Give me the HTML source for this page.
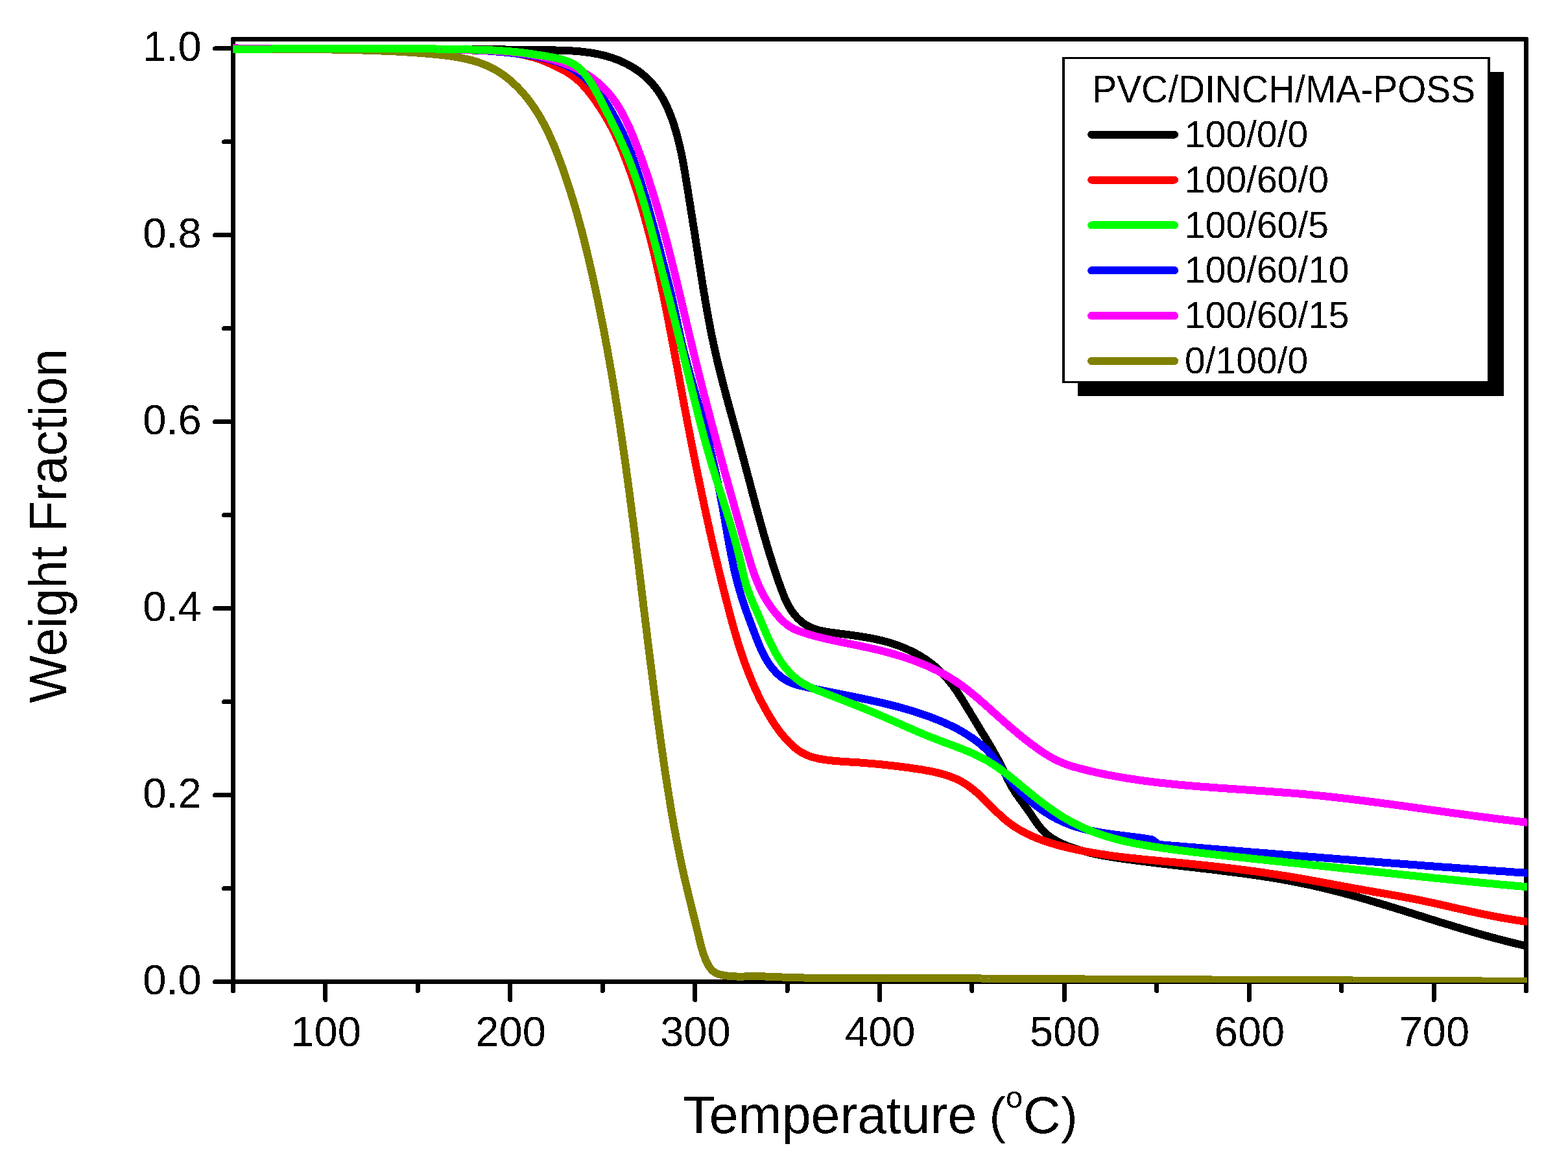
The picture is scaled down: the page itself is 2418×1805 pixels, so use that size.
<!DOCTYPE html>
<html><head><meta charset="utf-8"><title>TGA curves</title>
<style>html,body{margin:0;padding:0;background:#fff;}body{width:2418px;height:1805px;overflow:hidden;}svg{display:block;}</style>
</head><body>
<svg width="2418" height="1805" viewBox="0 0 2418 1805" shape-rendering="crispEdges">
<rect width="2418" height="1805" fill="#fff"/>
<defs><filter id="bin"><feComponentTransfer><feFuncA type="discrete" tableValues="0 1"/></feComponentTransfer></filter><clipPath id="pc"><rect x="359.5" y="57" width="1995.5" height="1459.0"/></clipPath></defs>
<rect x="359.5" y="60.4" width="1994.0" height="1454.1" stroke="#000" stroke-width="7" fill="none" stroke-linejoin="round"/>
<path d="M359.5,1514.5v14 M501.9,1514.5v28 M644.4,1514.5v14 M786.8,1514.5v28 M929.2,1514.5v14 M1071.6,1514.5v28 M1214.1,1514.5v14 M1356.5,1514.5v28 M1498.9,1514.5v14 M1641.4,1514.5v28 M1783.8,1514.5v14 M1926.2,1514.5v28 M2068.6,1514.5v14 M2211.1,1514.5v28 M2353.5,1514.5v14 M359.5,1514.5h-28 M359.5,1370.5h-14 M359.5,1226.6h-28 M359.5,1082.6h-14 M359.5,938.7h-28 M359.5,794.7h-14 M359.5,650.7h-28 M359.5,506.8h-14 M359.5,362.8h-28 M359.5,218.9h-14 M359.5,74.9h-28" stroke="#000" stroke-width="7" stroke-linecap="round" fill="none"/>
<g font-family="'Liberation Sans', Arial, sans-serif" font-size="65" fill="#000" filter="url(#bin)"><text x="502.7" y="1613.6" text-anchor="middle">100</text><text x="787.6" y="1613.6" text-anchor="middle">200</text><text x="1072.4" y="1613.6" text-anchor="middle">300</text><text x="1357.3" y="1613.6" text-anchor="middle">400</text><text x="1642.2" y="1613.6" text-anchor="middle">500</text><text x="1927.0" y="1613.6" text-anchor="middle">600</text><text x="2211.9" y="1613.6" text-anchor="middle">700</text><text x="310.6" y="1533.7" text-anchor="end">0.0</text><text x="310.6" y="1245.8" text-anchor="end">0.2</text><text x="310.6" y="957.9" text-anchor="end">0.4</text><text x="310.6" y="669.9" text-anchor="end">0.6</text><text x="310.6" y="382.0" text-anchor="end">0.8</text><text x="310.6" y="94.1" text-anchor="end">1.0</text></g>
<text font-family="'Liberation Sans', Arial, sans-serif" fill="#000" filter="url(#bin)" y="1747.8"><tspan x="1053.3" font-size="80.7">Temperature </tspan><tspan x="1525.5" font-size="77">(</tspan><tspan x="1551" y="1709.4" font-size="47">o</tspan><tspan x="1577.7" y="1747.8" font-size="80">C</tspan><tspan x="1636.1" font-size="77">)</tspan></text>
<text font-family="'Liberation Sans', Arial, sans-serif" font-size="78.3" transform="translate(102,1084.8) rotate(-90) scale(1,1.035)" fill="#000" filter="url(#bin)">Weight Fraction</text>
<g clip-path="url(#pc)" shape-rendering="crispEdges" fill="none" stroke-width="12" stroke-linejoin="round" stroke-linecap="butt">
<path d="M359.1,74.8 363.1,74.8 367.1,74.8 371.1,74.8 375.1,74.8 379.1,74.8 383.1,74.8 387.1,74.8 391.1,74.8 395.1,74.8 399.1,74.8 403.1,74.8 407.1,74.8 411.1,74.8 415.1,74.8 419.1,74.8 423.1,74.8 427.2,74.8 431.2,74.8 435.2,74.8 439.2,74.8 443.2,74.8 447.2,74.8 451.2,74.8 455.2,74.8 459.2,74.9 463.2,74.9 467.3,74.9 471.3,74.9 475.3,74.9 479.3,74.9 483.3,74.9 487.3,74.9 491.3,74.9 495.3,74.9 499.3,74.9 503.4,74.9 507.4,74.9 511.4,74.9 515.4,74.9 519.4,74.9 523.4,74.9 527.4,74.9 531.4,74.9 535.5,75.0 539.5,75.0 543.5,75.0 547.5,75.0 551.5,75.0 555.5,75.0 559.5,75.0 563.6,75.0 567.6,75.0 571.6,75.0 575.6,75.0 579.6,75.1 583.6,75.1 587.6,75.1 591.6,75.1 595.7,75.1 599.7,75.1 603.7,75.1 607.7,75.2 611.7,75.2 615.7,75.2 619.7,75.2 623.7,75.2 627.8,75.2 631.8,75.3 635.8,75.3 639.8,75.3 643.8,75.3 647.8,75.3 651.8,75.4 655.8,75.4 659.8,75.4 663.9,75.4 667.9,75.5 671.9,75.5 675.9,75.5 679.9,75.5 683.9,75.6 687.9,75.6 691.9,75.6 695.9,75.6 699.9,75.7 703.9,75.7 707.9,75.7 711.9,75.8 715.9,75.8 720.0,75.8 724.0,75.9 728.0,75.9 732.0,76.0 736.0,76.0 740.0,76.0 744.0,76.1 748.0,76.1 752.0,76.2 756.0,76.2 760.0,76.3 764.0,76.3 768.0,76.3 772.0,76.4 776.0,76.4 780.0,76.5 784.0,76.5 788.0,76.6 792.0,76.6 796.0,76.7 800.0,76.7 804.0,76.8 808.1,76.8 812.1,76.9 816.1,76.9 820.1,77.0 824.1,77.0 828.1,77.1 832.2,77.1 836.2,77.2 840.2,77.3 844.3,77.3 848.3,77.4 852.3,77.4 856.4,77.5 860.4,77.6 864.5,77.7 868.5,77.8 872.5,78.0 876.6,78.2 880.6,78.4 884.6,78.6 888.6,78.9 892.6,79.3 896.6,79.6 900.6,80.1 904.5,80.6 908.5,81.1 912.4,81.7 916.4,82.4 920.3,83.1 924.2,83.9 928.0,84.8 931.9,85.7 935.8,86.8 939.6,87.9 943.4,89.1 947.1,90.4 950.9,91.8 954.6,93.2 958.3,94.8 961.9,96.5 965.5,98.2 969.1,100.1 972.6,102.1 976.1,104.1 979.5,106.3 982.8,108.5 986.1,110.9 989.3,113.3 992.4,115.9 995.5,118.5 998.4,121.2 1001.2,124.0 1004.0,126.9 1006.6,129.9 1009.1,132.9 1011.6,136.0 1013.9,139.2 1016.2,142.5 1018.3,145.8 1020.4,149.1 1022.4,152.6 1024.2,156.1 1026.1,159.6 1027.8,163.2 1029.5,166.8 1031.1,170.4 1032.6,174.1 1034.1,177.9 1035.5,181.6 1036.9,185.4 1038.2,189.2 1039.4,193.0 1040.6,196.9 1041.8,200.7 1042.9,204.6 1044.0,208.4 1045.0,212.3 1046.0,216.2 1046.9,220.1 1047.9,224.0 1048.8,227.9 1049.6,231.8 1050.5,235.7 1051.3,239.7 1052.1,243.6 1052.8,247.5 1053.6,251.5 1054.3,255.4 1055.0,259.4 1055.7,263.3 1056.4,267.3 1057.0,271.3 1057.7,275.2 1058.3,279.2 1059.0,283.1 1059.6,287.1 1060.2,291.1 1060.9,295.0 1061.5,299.0 1062.1,302.9 1062.8,306.9 1063.4,310.9 1064.0,314.8 1064.7,318.8 1065.3,322.7 1065.9,326.7 1066.6,330.6 1067.2,334.6 1067.8,338.6 1068.4,342.5 1069.1,346.5 1069.7,350.4 1070.3,354.4 1070.9,358.3 1071.6,362.3 1072.2,366.3 1072.8,370.2 1073.4,374.2 1074.0,378.1 1074.6,382.1 1075.3,386.1 1075.9,390.0 1076.5,394.0 1077.1,398.0 1077.7,401.9 1078.3,405.9 1078.9,409.9 1079.5,413.8 1080.2,417.8 1080.8,421.7 1081.4,425.7 1082.0,429.7 1082.7,433.6 1083.3,437.6 1083.9,441.6 1084.6,445.5 1085.2,449.5 1085.9,453.4 1086.6,457.4 1087.2,461.3 1087.9,465.3 1088.6,469.3 1089.3,473.2 1090.0,477.2 1090.7,481.1 1091.4,485.1 1092.1,489.0 1092.8,492.9 1093.6,496.9 1094.3,500.8 1095.1,504.8 1095.8,508.7 1096.6,512.6 1097.4,516.6 1098.2,520.5 1099.0,524.4 1099.9,528.3 1100.7,532.2 1101.6,536.2 1102.4,540.1 1103.3,544.0 1104.2,547.9 1105.1,551.8 1106.0,555.7 1106.9,559.6 1107.9,563.5 1108.8,567.4 1109.8,571.3 1110.8,575.2 1111.7,579.0 1112.7,582.9 1113.7,586.8 1114.7,590.7 1115.7,594.6 1116.7,598.4 1117.7,602.3 1118.8,606.2 1119.8,610.1 1120.8,613.9 1121.9,617.8 1122.9,621.7 1124.0,625.6 1125.0,629.4 1126.1,633.3 1127.1,637.2 1128.2,641.0 1129.3,644.9 1130.3,648.8 1131.4,652.6 1132.5,656.5 1133.5,660.4 1134.6,664.3 1135.7,668.1 1136.7,672.0 1137.8,675.9 1138.9,679.7 1139.9,683.6 1141.0,687.5 1142.0,691.3 1143.1,695.2 1144.1,699.1 1145.2,703.0 1146.2,706.9 1147.3,710.7 1148.3,714.6 1149.3,718.5 1150.3,722.4 1151.4,726.3 1152.4,730.1 1153.4,734.0 1154.4,737.9 1155.5,741.8 1156.5,745.7 1157.5,749.5 1158.5,753.4 1159.6,757.3 1160.6,761.2 1161.6,765.1 1162.6,768.9 1163.7,772.8 1164.7,776.7 1165.7,780.6 1166.8,784.4 1167.8,788.3 1168.9,792.2 1169.9,796.0 1171.0,799.9 1172.0,803.8 1173.1,807.6 1174.2,811.5 1175.3,815.3 1176.3,819.2 1177.4,823.1 1178.5,826.9 1179.7,830.7 1180.8,834.6 1181.9,838.4 1183.0,842.3 1184.2,846.1 1185.3,849.9 1186.5,853.7 1187.7,857.6 1188.9,861.4 1190.1,865.2 1191.3,869.0 1192.5,872.8 1193.7,876.6 1195.0,880.4 1196.2,884.2 1197.5,888.0 1198.8,891.8 1200.1,895.6 1201.5,899.4 1202.8,903.2 1204.2,907.0 1205.6,910.8 1207.0,914.6 1208.5,918.3 1210.0,922.1 1211.6,925.8 1213.3,929.4 1215.2,933.0 1217.1,936.5 1219.2,939.9 1221.4,943.2 1223.8,946.4 1226.3,949.5 1228.9,952.5 1231.7,955.3 1234.7,958.0 1237.7,960.5 1240.9,962.8 1244.3,964.9 1247.7,966.8 1251.3,968.5 1254.9,969.9 1258.7,971.2 1262.6,972.3 1266.5,973.2 1270.5,974.0 1274.5,974.7 1278.5,975.4 1282.6,975.9 1286.7,976.4 1290.7,977.0 1294.7,977.5 1298.7,978.0 1302.7,978.5 1306.7,979.0 1310.7,979.5 1314.6,980.1 1318.6,980.6 1322.5,981.2 1326.4,981.8 1330.3,982.4 1334.2,983.1 1338.1,983.8 1342.0,984.5 1345.9,985.2 1349.8,986.0 1353.7,986.9 1357.6,987.7 1361.5,988.7 1365.3,989.7 1369.2,990.7 1373.0,991.9 1376.9,993.1 1380.7,994.3 1384.5,995.7 1388.3,997.1 1392.0,998.6 1395.8,1000.1 1399.5,1001.8 1403.1,1003.5 1406.8,1005.3 1410.4,1007.1 1413.9,1009.0 1417.5,1011.0 1420.9,1013.1 1424.3,1015.2 1427.7,1017.4 1431.0,1019.7 1434.2,1022.1 1437.4,1024.5 1440.5,1027.0 1443.5,1029.6 1446.5,1032.2 1449.4,1034.9 1452.2,1037.7 1454.9,1040.6 1457.6,1043.5 1460.2,1046.5 1462.8,1049.5 1465.2,1052.6 1467.7,1055.7 1470.1,1058.9 1472.4,1062.2 1474.7,1065.4 1476.9,1068.7 1479.1,1072.1 1481.3,1075.4 1483.5,1078.8 1485.6,1082.2 1487.7,1085.6 1489.8,1089.1 1491.9,1092.5 1494.0,1096.0 1496.1,1099.4 1498.1,1102.9 1500.2,1106.3 1502.3,1109.8 1504.4,1113.2 1506.5,1116.6 1508.6,1120.1 1510.7,1123.5 1512.7,1126.9 1514.8,1130.3 1516.9,1133.7 1519.0,1137.1 1521.1,1140.6 1523.1,1144.0 1525.2,1147.4 1527.2,1150.8 1529.2,1154.3 1531.2,1157.7 1533.1,1161.2 1535.1,1164.7 1537.0,1168.2 1538.9,1171.7 1540.7,1175.2 1542.6,1178.8 1544.4,1182.4 1546.1,1186.0 1547.9,1189.6 1549.6,1193.2 1551.4,1196.8 1553.1,1200.4 1554.9,1203.9 1556.8,1207.5 1558.7,1211.0 1560.6,1214.4 1562.7,1217.8 1564.8,1221.2 1567.0,1224.5 1569.3,1227.8 1571.6,1231.0 1573.9,1234.2 1576.3,1237.5 1578.7,1240.7 1581.0,1243.9 1583.4,1247.2 1585.7,1250.5 1588.0,1253.8 1590.3,1257.2 1592.6,1260.6 1594.9,1264.0 1597.2,1267.3 1599.5,1270.6 1601.9,1273.8 1604.4,1276.9 1607.0,1279.9 1609.7,1282.8 1612.5,1285.6 1615.5,1288.1 1618.6,1290.5 1621.8,1292.8 1625.2,1294.9 1628.6,1296.9 1632.1,1298.8 1635.7,1300.6 1639.4,1302.2 1643.1,1303.8 1646.8,1305.3 1650.6,1306.7 1654.4,1308.0 1658.2,1309.3 1662.1,1310.5 1665.9,1311.7 1669.8,1312.8 1673.6,1313.8 1677.5,1314.8 1681.4,1315.8 1685.3,1316.7 1689.2,1317.6 1693.2,1318.4 1697.1,1319.2 1701.0,1319.9 1705.0,1320.6 1708.9,1321.3 1712.9,1322.0 1716.9,1322.6 1720.8,1323.2 1724.8,1323.8 1728.8,1324.4 1732.7,1325.0 1736.7,1325.5 1740.7,1326.0 1744.7,1326.6 1748.7,1327.1 1752.6,1327.6 1756.6,1328.1 1760.6,1328.6 1764.6,1329.1 1768.5,1329.6 1772.5,1330.1 1776.5,1330.6 1780.4,1331.1 1784.4,1331.6 1788.4,1332.1 1792.4,1332.6 1796.3,1333.0 1800.3,1333.5 1804.3,1334.0 1808.3,1334.5 1812.2,1334.9 1816.2,1335.4 1820.2,1335.9 1824.2,1336.3 1828.2,1336.8 1832.1,1337.2 1836.1,1337.7 1840.1,1338.2 1844.1,1338.6 1848.1,1339.1 1852.1,1339.6 1856.0,1340.0 1860.0,1340.5 1864.0,1341.0 1868.0,1341.4 1872.0,1341.9 1876.0,1342.4 1880.0,1342.9 1883.9,1343.4 1887.9,1343.9 1891.9,1344.4 1895.9,1344.9 1899.9,1345.4 1903.9,1345.9 1907.8,1346.4 1911.8,1346.9 1915.8,1347.4 1919.8,1348.0 1923.8,1348.5 1927.7,1349.1 1931.7,1349.7 1935.7,1350.2 1939.7,1350.8 1943.6,1351.4 1947.6,1352.0 1951.6,1352.6 1955.5,1353.2 1959.5,1353.9 1963.4,1354.5 1967.4,1355.2 1971.3,1355.8 1975.3,1356.5 1979.2,1357.2 1983.2,1357.9 1987.1,1358.6 1991.1,1359.4 1995.0,1360.1 1998.9,1360.9 2002.9,1361.7 2006.8,1362.5 2010.7,1363.3 2014.6,1364.1 2018.6,1364.9 2022.5,1365.8 2026.4,1366.7 2030.3,1367.6 2034.2,1368.5 2038.1,1369.4 2042.0,1370.3 2045.9,1371.3 2049.7,1372.2 2053.6,1373.2 2057.5,1374.2 2061.4,1375.2 2065.3,1376.2 2069.1,1377.2 2073.0,1378.2 2076.9,1379.3 2080.8,1380.3 2084.6,1381.4 2088.5,1382.4 2092.3,1383.5 2096.2,1384.6 2100.1,1385.7 2103.9,1386.8 2107.8,1387.9 2111.6,1389.0 2115.5,1390.2 2119.3,1391.3 2123.2,1392.5 2127.0,1393.6 2130.8,1394.8 2134.7,1395.9 2138.5,1397.1 2142.4,1398.2 2146.2,1399.4 2150.0,1400.6 2153.9,1401.8 2157.7,1403.0 2161.5,1404.1 2165.4,1405.3 2169.2,1406.5 2173.0,1407.7 2176.9,1408.9 2180.7,1410.1 2184.5,1411.3 2188.4,1412.5 2192.2,1413.7 2196.0,1414.9 2199.9,1416.1 2203.7,1417.3 2207.5,1418.5 2211.4,1419.7 2215.2,1420.9 2219.0,1422.1 2222.9,1423.3 2226.7,1424.4 2230.5,1425.6 2234.4,1426.8 2238.2,1428.0 2242.1,1429.1 2245.9,1430.3 2249.7,1431.5 2253.6,1432.6 2257.4,1433.8 2261.3,1434.9 2265.1,1436.0 2269.0,1437.2 2272.8,1438.3 2276.7,1439.4 2280.5,1440.5 2284.4,1441.6 2288.2,1442.7 2292.1,1443.8 2295.9,1444.8 2299.8,1445.9 2303.7,1446.9 2307.5,1448.0 2311.4,1449.0 2315.3,1450.0 2319.2,1451.0 2323.0,1452.0 2326.9,1453.0 2330.8,1454.0 2334.7,1454.9 2338.6,1455.9 2342.5,1456.8 2346.4,1457.7 2350.3,1458.6 2354.2,1459.5 2358.1,1460.4" stroke="#000000"/>
<path d="M359.0,74.9 363.0,74.9 367.0,74.8 371.0,74.8 375.0,74.8 379.1,74.8 383.1,74.8 387.1,74.8 391.1,74.8 395.1,74.8 399.1,74.8 403.1,74.8 407.1,74.8 411.1,74.8 415.2,74.8 419.2,74.8 423.2,74.8 427.2,74.9 431.2,74.9 435.2,74.9 439.2,74.9 443.2,74.9 447.2,74.9 451.3,74.9 455.3,74.9 459.3,74.9 463.3,74.9 467.3,74.9 471.3,75.0 475.3,75.0 479.3,75.0 483.3,75.0 487.4,75.0 491.4,75.0 495.4,75.0 499.4,75.0 503.4,75.1 507.4,75.1 511.4,75.1 515.4,75.1 519.4,75.1 523.5,75.1 527.5,75.1 531.5,75.1 535.5,75.2 539.5,75.2 543.5,75.2 547.5,75.2 551.5,75.2 555.5,75.2 559.6,75.2 563.6,75.2 567.6,75.2 571.6,75.3 575.6,75.3 579.6,75.3 583.6,75.3 587.6,75.3 591.6,75.3 595.7,75.3 599.7,75.4 603.7,75.4 607.7,75.4 611.7,75.4 615.7,75.4 619.7,75.5 623.7,75.5 627.7,75.5 631.8,75.6 635.8,75.6 639.8,75.6 643.8,75.7 647.8,75.7 651.8,75.8 655.8,75.8 659.8,75.9 663.9,75.9 667.9,76.0 671.9,76.1 675.9,76.1 679.9,76.2 683.9,76.3 687.9,76.4 691.9,76.5 695.9,76.6 700.0,76.7 704.0,76.8 708.0,76.9 712.0,77.0 716.0,77.1 720.0,77.2 724.0,77.4 728.0,77.5 732.0,77.7 736.0,77.8 740.1,78.0 744.1,78.1 748.1,78.3 752.1,78.5 756.1,78.7 760.1,78.9 764.1,79.2 768.1,79.5 772.1,79.8 776.1,80.1 780.0,80.5 784.0,81.0 788.0,81.5 791.9,82.0 795.9,82.6 799.8,83.2 803.7,84.0 807.6,84.8 811.5,85.6 815.4,86.6 819.3,87.6 823.1,88.7 827.0,89.9 830.8,91.1 834.6,92.5 838.3,93.9 842.1,95.5 845.8,97.0 849.5,98.7 853.2,100.3 856.9,102.1 860.5,103.8 864.0,105.6 867.6,107.5 871.0,109.4 874.4,111.4 877.8,113.5 881.0,115.7 884.2,118.0 887.2,120.4 890.2,122.9 893.1,125.5 895.9,128.2 898.6,131.0 901.2,133.9 903.8,136.8 906.3,139.8 908.8,142.9 911.2,146.0 913.6,149.2 916.0,152.4 918.3,155.7 920.6,159.0 922.9,162.3 925.2,165.7 927.4,169.1 929.5,172.5 931.7,175.9 933.7,179.4 935.8,182.9 937.8,186.4 939.7,189.9 941.7,193.5 943.5,197.0 945.4,200.6 947.1,204.2 948.9,207.8 950.6,211.5 952.3,215.1 953.9,218.8 955.5,222.4 957.1,226.1 958.7,229.8 960.2,233.5 961.7,237.3 963.1,241.0 964.6,244.7 966.0,248.5 967.4,252.2 968.8,256.0 970.2,259.8 971.5,263.5 972.8,267.3 974.2,271.1 975.5,274.9 976.7,278.7 978.0,282.5 979.3,286.3 980.5,290.1 981.7,293.9 982.9,297.7 984.2,301.5 985.3,305.4 986.5,309.2 987.7,313.0 988.8,316.8 990.0,320.7 991.1,324.5 992.2,328.4 993.3,332.2 994.4,336.1 995.4,339.9 996.5,343.8 997.6,347.6 998.6,351.5 999.6,355.4 1000.6,359.2 1001.7,363.1 1002.6,367.0 1003.6,370.9 1004.6,374.7 1005.6,378.6 1006.5,382.5 1007.5,386.4 1008.4,390.3 1009.4,394.2 1010.3,398.1 1011.2,402.0 1012.1,405.9 1013.0,409.8 1013.9,413.7 1014.8,417.6 1015.6,421.5 1016.5,425.5 1017.4,429.4 1018.2,433.3 1019.0,437.2 1019.9,441.1 1020.7,445.1 1021.5,449.0 1022.4,452.9 1023.2,456.8 1024.0,460.8 1024.8,464.7 1025.6,468.6 1026.4,472.6 1027.2,476.5 1027.9,480.4 1028.7,484.4 1029.5,488.3 1030.3,492.3 1031.0,496.2 1031.8,500.1 1032.5,504.1 1033.3,508.0 1034.1,512.0 1034.8,515.9 1035.5,519.9 1036.3,523.8 1037.0,527.8 1037.8,531.7 1038.5,535.7 1039.2,539.6 1040.0,543.6 1040.7,547.5 1041.4,551.5 1042.2,555.4 1042.9,559.4 1043.6,563.3 1044.4,567.2 1045.1,571.2 1045.8,575.1 1046.6,579.1 1047.3,583.0 1048.0,587.0 1048.7,590.9 1049.5,594.9 1050.2,598.8 1050.9,602.8 1051.7,606.7 1052.4,610.7 1053.2,614.6 1053.9,618.5 1054.6,622.5 1055.4,626.4 1056.1,630.4 1056.9,634.3 1057.6,638.3 1058.4,642.2 1059.1,646.1 1059.9,650.1 1060.6,654.0 1061.4,657.9 1062.1,661.9 1062.9,665.8 1063.7,669.8 1064.4,673.7 1065.2,677.6 1066.0,681.6 1066.7,685.5 1067.5,689.4 1068.3,693.4 1069.1,697.3 1069.8,701.2 1070.6,705.1 1071.4,709.1 1072.2,713.0 1073.0,716.9 1073.8,720.9 1074.6,724.8 1075.4,728.7 1076.2,732.6 1077.0,736.6 1077.8,740.5 1078.6,744.4 1079.4,748.3 1080.2,752.3 1081.0,756.2 1081.8,760.1 1082.7,764.0 1083.5,767.9 1084.3,771.9 1085.2,775.8 1086.0,779.7 1086.8,783.6 1087.7,787.5 1088.5,791.5 1089.4,795.4 1090.2,799.3 1091.1,803.2 1091.9,807.1 1092.8,811.0 1093.7,814.9 1094.5,818.9 1095.4,822.8 1096.3,826.7 1097.2,830.6 1098.0,834.5 1098.9,838.4 1099.8,842.3 1100.7,846.2 1101.6,850.1 1102.5,854.0 1103.4,857.9 1104.4,861.9 1105.3,865.8 1106.2,869.7 1107.1,873.6 1108.0,877.5 1109.0,881.4 1109.9,885.3 1110.9,889.2 1111.8,893.1 1112.8,897.0 1113.7,900.9 1114.7,904.8 1115.6,908.7 1116.6,912.6 1117.6,916.5 1118.6,920.4 1119.6,924.3 1120.6,928.2 1121.6,932.0 1122.6,935.9 1123.6,939.8 1124.6,943.7 1125.6,947.6 1126.7,951.5 1127.7,955.4 1128.8,959.2 1129.8,963.1 1130.9,967.0 1132.0,970.8 1133.1,974.7 1134.3,978.5 1135.4,982.4 1136.5,986.2 1137.7,990.1 1138.9,993.9 1140.1,997.7 1141.3,1001.5 1142.6,1005.3 1143.9,1009.1 1145.1,1012.9 1146.5,1016.7 1147.8,1020.5 1149.1,1024.2 1150.5,1028.0 1151.9,1031.7 1153.3,1035.5 1154.8,1039.2 1156.3,1042.9 1157.8,1046.6 1159.3,1050.3 1160.9,1054.0 1162.4,1057.6 1164.1,1061.3 1165.7,1064.9 1167.4,1068.5 1169.1,1072.2 1170.8,1075.8 1172.6,1079.3 1174.4,1082.9 1176.3,1086.5 1178.2,1090.0 1180.1,1093.5 1182.0,1097.0 1184.0,1100.5 1186.1,1104.0 1188.1,1107.4 1190.3,1110.9 1192.4,1114.2 1194.7,1117.6 1196.9,1120.9 1199.3,1124.2 1201.7,1127.5 1204.1,1130.7 1206.6,1133.8 1209.2,1136.9 1211.9,1140.0 1214.6,1143.0 1217.4,1145.9 1220.3,1148.7 1223.3,1151.4 1226.3,1154.0 1229.4,1156.4 1232.6,1158.7 1236.0,1160.7 1239.4,1162.6 1242.9,1164.3 1246.5,1165.8 1250.2,1167.2 1253.9,1168.3 1257.8,1169.4 1261.6,1170.3 1265.6,1171.0 1269.5,1171.7 1273.5,1172.3 1277.5,1172.8 1281.5,1173.3 1285.6,1173.7 1289.6,1174.1 1293.7,1174.4 1297.7,1174.7 1301.8,1175.0 1305.8,1175.3 1309.8,1175.5 1313.9,1175.8 1317.9,1176.0 1321.9,1176.3 1325.9,1176.5 1329.9,1176.8 1333.9,1177.1 1337.9,1177.5 1341.9,1177.8 1345.9,1178.1 1349.8,1178.5 1353.8,1178.9 1357.8,1179.2 1361.7,1179.6 1365.7,1180.1 1369.6,1180.5 1373.6,1180.9 1377.5,1181.4 1381.5,1181.9 1385.5,1182.4 1389.4,1182.9 1393.4,1183.4 1397.4,1183.9 1401.4,1184.4 1405.3,1185.0 1409.3,1185.6 1413.3,1186.2 1417.3,1186.8 1421.4,1187.4 1425.4,1188.1 1429.4,1188.8 1433.4,1189.5 1437.3,1190.3 1441.3,1191.2 1445.2,1192.1 1449.1,1193.0 1453.0,1194.1 1456.9,1195.2 1460.7,1196.4 1464.4,1197.7 1468.1,1199.1 1471.8,1200.5 1475.4,1202.1 1478.9,1203.8 1482.4,1205.6 1485.8,1207.6 1489.2,1209.6 1492.4,1211.8 1495.6,1214.1 1498.8,1216.5 1501.9,1219.0 1504.9,1221.5 1507.9,1224.2 1510.9,1226.9 1513.9,1229.7 1516.8,1232.5 1519.7,1235.3 1522.6,1238.2 1525.4,1241.1 1528.3,1244.0 1531.2,1246.9 1534.1,1249.8 1537.0,1252.6 1539.9,1255.4 1542.9,1258.2 1545.9,1260.9 1548.9,1263.6 1552.0,1266.1 1555.1,1268.6 1558.3,1271.0 1561.6,1273.4 1564.8,1275.6 1568.2,1277.7 1571.6,1279.8 1575.0,1281.7 1578.5,1283.6 1582.0,1285.5 1585.6,1287.2 1589.2,1288.9 1592.8,1290.5 1596.5,1292.1 1600.2,1293.5 1603.9,1295.0 1607.6,1296.3 1611.4,1297.7 1615.2,1298.9 1619.0,1300.2 1622.9,1301.3 1626.7,1302.5 1630.6,1303.6 1634.4,1304.6 1638.3,1305.6 1642.2,1306.6 1646.1,1307.6 1650.0,1308.5 1653.9,1309.4 1657.8,1310.3 1661.7,1311.1 1665.6,1311.9 1669.5,1312.7 1673.4,1313.5 1677.4,1314.2 1681.3,1315.0 1685.3,1315.6 1689.2,1316.3 1693.1,1317.0 1697.1,1317.6 1701.1,1318.2 1705.0,1318.8 1709.0,1319.4 1712.9,1319.9 1716.9,1320.5 1720.9,1321.0 1724.9,1321.5 1728.8,1322.0 1732.8,1322.5 1736.8,1322.9 1740.8,1323.4 1744.8,1323.8 1748.8,1324.2 1752.8,1324.7 1756.8,1325.1 1760.8,1325.5 1764.8,1325.9 1768.8,1326.3 1772.8,1326.7 1776.7,1327.1 1780.7,1327.4 1784.7,1327.8 1788.7,1328.2 1792.7,1328.6 1796.8,1328.9 1800.8,1329.3 1804.8,1329.7 1808.7,1330.1 1812.7,1330.4 1816.7,1330.8 1820.7,1331.2 1824.7,1331.6 1828.7,1332.0 1832.7,1332.4 1836.7,1332.8 1840.7,1333.2 1844.7,1333.6 1848.7,1334.0 1852.7,1334.5 1856.7,1334.9 1860.7,1335.3 1864.6,1335.7 1868.6,1336.2 1872.6,1336.6 1876.6,1337.1 1880.6,1337.5 1884.6,1338.0 1888.5,1338.5 1892.5,1338.9 1896.5,1339.4 1900.5,1339.9 1904.5,1340.4 1908.4,1340.9 1912.4,1341.4 1916.4,1341.9 1920.4,1342.4 1924.3,1342.9 1928.3,1343.5 1932.3,1344.0 1936.2,1344.5 1940.2,1345.1 1944.2,1345.6 1948.2,1346.2 1952.1,1346.8 1956.1,1347.4 1960.0,1347.9 1964.0,1348.5 1968.0,1349.1 1971.9,1349.7 1975.9,1350.4 1979.9,1351.0 1983.8,1351.6 1987.8,1352.2 1991.7,1352.9 1995.7,1353.6 1999.6,1354.2 2003.6,1354.9 2007.5,1355.6 2011.5,1356.3 2015.4,1357.0 2019.4,1357.7 2023.3,1358.4 2027.3,1359.1 2031.2,1359.8 2035.2,1360.5 2039.1,1361.3 2043.1,1362.0 2047.0,1362.7 2051.0,1363.5 2054.9,1364.2 2058.9,1364.9 2062.8,1365.7 2066.8,1366.4 2070.7,1367.2 2074.6,1367.9 2078.6,1368.6 2082.5,1369.4 2086.5,1370.1 2090.4,1370.8 2094.4,1371.5 2098.3,1372.2 2102.3,1372.9 2106.2,1373.6 2110.2,1374.3 2114.1,1375.0 2118.1,1375.7 2122.0,1376.4 2126.0,1377.1 2129.9,1377.7 2133.9,1378.4 2137.8,1379.1 2141.7,1379.8 2145.7,1380.5 2149.6,1381.2 2153.6,1381.9 2157.5,1382.6 2161.5,1383.3 2165.4,1384.0 2169.3,1384.8 2173.3,1385.5 2177.2,1386.3 2181.1,1387.0 2185.1,1387.8 2189.0,1388.6 2192.9,1389.4 2196.8,1390.3 2200.8,1391.1 2204.7,1391.9 2208.6,1392.8 2212.5,1393.6 2216.4,1394.5 2220.4,1395.4 2224.3,1396.3 2228.2,1397.1 2232.1,1398.0 2236.0,1398.9 2239.9,1399.8 2243.8,1400.7 2247.8,1401.6 2251.7,1402.5 2255.6,1403.4 2259.5,1404.2 2263.4,1405.1 2267.3,1406.0 2271.3,1406.9 2275.2,1407.7 2279.1,1408.6 2283.0,1409.4 2286.9,1410.2 2290.9,1411.0 2294.8,1411.8 2298.7,1412.6 2302.7,1413.4 2306.6,1414.2 2310.6,1414.9 2314.5,1415.6 2318.4,1416.3 2322.4,1417.0 2326.4,1417.7 2330.3,1418.3 2334.3,1419.0 2338.2,1419.6 2342.2,1420.1 2346.2,1420.7 2350.2,1421.2 2354.2,1421.7 2358.1,1422.2" stroke="#ff0000"/>
<path d="M359.0,74.9 363.1,74.9 367.1,74.9 371.1,74.9 375.1,74.9 379.1,74.9 383.1,74.9 387.1,74.9 391.1,74.8 395.1,74.8 399.1,74.8 403.1,74.8 407.1,74.8 411.1,74.8 415.1,74.8 419.1,74.8 423.2,74.8 427.2,74.8 431.2,74.8 435.2,74.8 439.2,74.8 443.2,74.8 447.2,74.8 451.2,74.9 455.2,74.9 459.3,74.9 463.3,74.9 467.3,74.9 471.3,74.9 475.3,74.9 479.3,74.9 483.3,74.9 487.3,74.9 491.4,74.9 495.4,75.0 499.4,75.0 503.4,75.0 507.4,75.0 511.4,75.0 515.4,75.0 519.4,75.1 523.5,75.1 527.5,75.1 531.5,75.1 535.5,75.1 539.5,75.1 543.5,75.2 547.5,75.2 551.6,75.2 555.6,75.2 559.6,75.3 563.6,75.3 567.6,75.3 571.6,75.3 575.6,75.4 579.7,75.4 583.7,75.4 587.7,75.4 591.7,75.5 595.7,75.5 599.7,75.5 603.7,75.6 607.7,75.6 611.8,75.6 615.8,75.7 619.8,75.7 623.8,75.7 627.8,75.8 631.8,75.8 635.8,75.8 639.8,75.9 643.8,75.9 647.8,75.9 651.9,76.0 655.9,76.0 659.9,76.1 663.9,76.1 667.9,76.1 671.9,76.2 675.9,76.2 679.9,76.3 683.9,76.3 687.9,76.4 691.9,76.4 695.9,76.5 699.9,76.6 703.9,76.7 707.9,76.8 711.9,76.9 715.9,77.0 719.9,77.1 723.9,77.2 727.9,77.4 731.9,77.5 735.9,77.7 739.9,77.9 743.9,78.1 747.9,78.3 751.9,78.5 755.9,78.8 759.9,79.1 763.9,79.4 767.9,79.7 771.9,80.0 775.9,80.4 779.9,80.8 783.9,81.2 787.9,81.6 791.9,82.1 795.9,82.5 799.9,83.1 803.9,83.6 807.9,84.2 811.9,84.7 815.9,85.4 819.8,86.0 823.8,86.7 827.8,87.4 831.8,88.2 835.8,89.0 839.7,89.9 843.6,90.8 847.5,91.8 851.4,92.9 855.2,94.1 859.0,95.3 862.8,96.6 866.5,98.0 870.1,99.6 873.7,101.2 877.3,102.9 880.7,104.8 884.1,106.8 887.5,108.9 890.7,111.1 893.9,113.5 897.0,115.9 900.1,118.5 903.1,121.1 906.0,123.9 908.8,126.7 911.6,129.6 914.4,132.6 917.0,135.6 919.6,138.7 922.2,141.9 924.7,145.1 927.1,148.3 929.5,151.5 931.8,154.8 934.1,158.1 936.3,161.4 938.5,164.8 940.6,168.2 942.7,171.6 944.7,175.1 946.7,178.5 948.7,182.0 950.6,185.5 952.4,189.1 954.3,192.6 956.0,196.2 957.8,199.8 959.5,203.4 961.1,207.0 962.8,210.7 964.4,214.3 965.9,218.0 967.5,221.7 969.0,225.4 970.5,229.2 971.9,232.9 973.3,236.6 974.7,240.4 976.1,244.2 977.5,247.9 978.8,251.7 980.1,255.5 981.4,259.3 982.7,263.1 983.9,267.0 985.2,270.8 986.4,274.6 987.6,278.4 988.8,282.3 990.0,286.1 991.2,289.9 992.3,293.8 993.5,297.6 994.6,301.5 995.8,305.3 996.9,309.2 998.0,313.0 999.1,316.9 1000.2,320.7 1001.3,324.6 1002.4,328.4 1003.5,332.3 1004.5,336.1 1005.6,340.0 1006.6,343.9 1007.7,347.7 1008.7,351.6 1009.8,355.5 1010.8,359.4 1011.8,363.2 1012.8,367.1 1013.9,371.0 1014.9,374.8 1015.9,378.7 1016.9,382.6 1017.9,386.5 1018.9,390.4 1019.9,394.2 1020.9,398.1 1021.9,402.0 1022.9,405.9 1024.0,409.8 1025.0,413.7 1026.0,417.5 1026.9,421.4 1027.9,425.3 1028.9,429.2 1029.9,433.1 1030.9,437.0 1031.8,440.9 1032.8,444.8 1033.7,448.7 1034.6,452.6 1035.6,456.5 1036.5,460.4 1037.4,464.3 1038.2,468.2 1039.1,472.1 1040.0,476.0 1040.8,480.0 1041.6,483.9 1042.5,487.8 1043.3,491.7 1044.1,495.6 1045.0,499.6 1045.8,503.5 1046.7,507.4 1047.5,511.3 1048.4,515.2 1049.2,519.2 1050.1,523.1 1051.0,527.0 1051.9,530.9 1052.9,534.8 1053.8,538.7 1054.8,542.6 1055.8,546.4 1056.8,550.3 1057.8,554.2 1058.8,558.1 1059.9,562.0 1060.9,565.9 1062.0,569.7 1063.0,573.6 1064.1,577.5 1065.2,581.3 1066.3,585.2 1067.3,589.1 1068.4,592.9 1069.5,596.8 1070.6,600.7 1071.7,604.5 1072.8,608.4 1073.9,612.2 1075.0,616.1 1076.1,620.0 1077.2,623.8 1078.3,627.7 1079.4,631.6 1080.5,635.4 1081.5,639.3 1082.6,643.2 1083.7,647.0 1084.7,650.9 1085.7,654.8 1086.8,658.6 1087.8,662.5 1088.8,666.4 1089.8,670.3 1090.8,674.2 1091.8,678.1 1092.7,681.9 1093.7,685.8 1094.6,689.7 1095.6,693.6 1096.5,697.5 1097.4,701.4 1098.3,705.3 1099.2,709.2 1100.1,713.1 1101.0,717.0 1101.8,720.9 1102.7,724.8 1103.5,728.7 1104.4,732.7 1105.2,736.6 1106.0,740.5 1106.8,744.4 1107.6,748.3 1108.4,752.3 1109.2,756.2 1110.0,760.1 1110.8,764.1 1111.5,768.0 1112.3,771.9 1113.0,775.9 1113.8,779.8 1114.5,783.8 1115.2,787.7 1115.9,791.7 1116.6,795.6 1117.3,799.6 1118.0,803.6 1118.7,807.5 1119.4,811.5 1120.1,815.4 1120.8,819.4 1121.5,823.4 1122.2,827.3 1122.9,831.3 1123.6,835.2 1124.3,839.2 1125.1,843.1 1125.8,847.1 1126.6,851.0 1127.3,855.0 1128.1,858.9 1128.9,862.8 1129.7,866.7 1130.5,870.7 1131.4,874.6 1132.2,878.5 1133.1,882.4 1134.1,886.3 1135.0,890.2 1136.0,894.0 1136.9,897.9 1138.0,901.8 1139.0,905.6 1140.1,909.4 1141.2,913.3 1142.4,917.1 1143.5,920.9 1144.7,924.7 1146.0,928.5 1147.2,932.3 1148.5,936.1 1149.8,939.8 1151.2,943.6 1152.5,947.4 1153.9,951.1 1155.3,954.9 1156.7,958.6 1158.1,962.4 1159.5,966.2 1160.9,969.9 1162.4,973.7 1163.8,977.5 1165.2,981.2 1166.7,985.0 1168.2,988.8 1169.7,992.5 1171.2,996.2 1172.8,999.9 1174.5,1003.6 1176.2,1007.2 1178.0,1010.7 1179.9,1014.2 1181.9,1017.7 1183.9,1021.1 1186.1,1024.4 1188.4,1027.6 1190.8,1030.7 1193.4,1033.8 1196.1,1036.7 1198.9,1039.5 1201.9,1042.2 1205.0,1044.7 1208.2,1047.1 1211.6,1049.2 1215.1,1051.2 1218.7,1052.8 1222.4,1054.3 1226.1,1055.5 1230.0,1056.7 1233.8,1057.7 1237.7,1058.6 1241.6,1059.5 1245.5,1060.4 1249.5,1061.3 1253.4,1062.1 1257.3,1063.0 1261.2,1063.8 1265.1,1064.6 1269.1,1065.5 1273.0,1066.3 1276.9,1067.1 1280.9,1067.8 1284.8,1068.6 1288.7,1069.4 1292.7,1070.2 1296.6,1071.0 1300.5,1071.8 1304.5,1072.5 1308.4,1073.3 1312.3,1074.1 1316.3,1074.9 1320.2,1075.7 1324.2,1076.5 1328.1,1077.3 1332.0,1078.1 1336.0,1079.0 1339.9,1079.8 1343.8,1080.7 1347.7,1081.5 1351.6,1082.4 1355.6,1083.3 1359.5,1084.2 1363.4,1085.1 1367.3,1086.1 1371.2,1087.0 1375.0,1088.0 1378.9,1089.0 1382.8,1090.0 1386.7,1091.0 1390.5,1092.1 1394.4,1093.2 1398.2,1094.3 1402.1,1095.4 1405.9,1096.6 1409.7,1097.8 1413.5,1099.0 1417.3,1100.2 1421.1,1101.5 1424.9,1102.8 1428.7,1104.1 1432.5,1105.4 1436.2,1106.8 1440.0,1108.3 1443.7,1109.7 1447.4,1111.2 1451.1,1112.8 1454.8,1114.3 1458.5,1115.9 1462.1,1117.6 1465.7,1119.3 1469.3,1121.1 1472.9,1122.9 1476.5,1124.7 1480.0,1126.6 1483.5,1128.6 1486.9,1130.6 1490.4,1132.7 1493.7,1134.9 1497.1,1137.1 1500.4,1139.3 1503.6,1141.7 1506.8,1144.1 1510.0,1146.6 1513.1,1149.1 1516.1,1151.8 1519.1,1154.5 1521.9,1157.3 1524.7,1160.2 1527.3,1163.1 1529.8,1166.2 1532.2,1169.3 1534.6,1172.5 1536.9,1175.7 1539.1,1179.0 1541.4,1182.3 1543.7,1185.5 1546.1,1188.7 1548.5,1192.0 1550.9,1195.1 1553.4,1198.3 1556.0,1201.4 1558.5,1204.5 1561.1,1207.6 1563.8,1210.6 1566.5,1213.6 1569.2,1216.6 1572.0,1219.5 1574.8,1222.4 1577.7,1225.2 1580.6,1228.0 1583.6,1230.7 1586.5,1233.4 1589.6,1236.0 1592.6,1238.6 1595.7,1241.2 1598.9,1243.6 1602.1,1246.0 1605.3,1248.4 1608.5,1250.7 1611.8,1252.9 1615.2,1255.1 1618.6,1257.2 1622.0,1259.2 1625.4,1261.1 1628.9,1263.0 1632.5,1264.8 1636.0,1266.5 1639.6,1268.2 1643.3,1269.7 1646.9,1271.2 1650.7,1272.6 1654.4,1273.9 1658.2,1275.2 1662.0,1276.3 1665.8,1277.4 1669.7,1278.5 1673.6,1279.5 1677.5,1280.4 1681.4,1281.3 1685.3,1282.1 1689.3,1282.9 1693.3,1283.6 1697.3,1284.3 1701.3,1285.0 1705.3,1285.6 1709.3,1286.2 1713.3,1286.8 1717.3,1287.3 1721.4,1287.8 1725.4,1288.4 1729.4,1288.9 1733.4,1289.4 1737.5,1289.9 1741.5,1290.4 1745.5,1290.9 1749.4,1291.4 1753.4,1291.9 1757.4,1292.4 1761.3,1293.0 1765.2,1293.5 1769.1,1294.1 1773.0,1294.8 1776.8,1295.4 L1787.0,1303.0 1791.0,1303.3 1795.0,1303.6 1799.1,1303.9 1803.1,1304.3 1807.1,1304.6 1811.1,1304.9 1815.1,1305.2 1819.2,1305.6 1823.2,1305.9 1827.2,1306.2 1831.2,1306.6 1835.2,1306.9 1839.3,1307.2 1843.3,1307.5 1847.3,1307.9 1851.3,1308.2 1855.3,1308.5 1859.4,1308.8 1863.4,1309.2 1867.4,1309.5 1871.4,1309.8 1875.4,1310.1 1879.4,1310.5 1883.5,1310.8 1887.5,1311.1 1891.5,1311.4 1895.5,1311.8 1899.5,1312.1 1903.6,1312.4 1907.6,1312.7 1911.6,1313.1 1915.6,1313.4 1919.6,1313.7 1923.7,1314.0 1927.7,1314.4 1931.7,1314.7 1935.7,1315.0 1939.7,1315.3 1943.8,1315.7 1947.8,1316.0 1951.8,1316.3 1955.8,1316.6 1959.8,1317.0 1963.9,1317.3 1967.9,1317.6 1971.9,1317.9 1975.9,1318.2 1979.9,1318.6 1984.0,1318.9 1988.0,1319.2 1992.0,1319.5 1996.0,1319.9 2000.0,1320.2 2004.1,1320.5 2008.1,1320.8 2012.1,1321.1 2016.1,1321.5 2020.1,1321.8 2024.2,1322.1 2028.2,1322.4 2032.2,1322.7 2036.2,1323.0 2040.3,1323.4 2044.3,1323.7 2048.3,1324.0 2052.3,1324.3 2056.3,1324.6 2060.4,1324.9 2064.4,1325.3 2068.4,1325.6 2072.4,1325.9 2076.4,1326.2 2080.5,1326.5 2084.5,1326.8 2088.5,1327.1 2092.5,1327.5 2096.5,1327.8 2100.6,1328.1 2104.6,1328.4 2108.6,1328.7 2112.6,1329.0 2116.6,1329.3 2120.7,1329.6 2124.7,1329.9 2128.7,1330.3 2132.7,1330.6 2136.7,1330.9 2140.8,1331.2 2144.8,1331.5 2148.8,1331.8 2152.8,1332.1 2156.9,1332.4 2160.9,1332.7 2164.9,1333.0 2168.9,1333.3 2172.9,1333.6 2177.0,1333.9 2181.0,1334.2 2185.0,1334.5 2189.0,1334.9 2193.0,1335.2 2197.1,1335.5 2201.1,1335.8 2205.1,1336.1 2209.1,1336.4 2213.2,1336.7 2217.2,1337.0 2221.2,1337.3 2225.2,1337.6 2229.2,1337.9 2233.3,1338.1 2237.3,1338.4 2241.3,1338.7 2245.3,1339.0 2249.3,1339.3 2253.4,1339.6 2257.4,1339.9 2261.4,1340.2 2265.4,1340.5 2269.5,1340.8 2273.5,1341.1 2277.5,1341.4 2281.5,1341.7 2285.5,1342.0 2289.6,1342.2 2293.6,1342.5 2297.6,1342.8 2301.6,1343.1 2305.6,1343.4 2309.7,1343.7 2313.7,1344.0 2317.7,1344.3 2321.7,1344.5 2325.8,1344.8 2329.8,1345.1 2333.8,1345.4 2337.8,1345.7 2341.8,1346.0 2345.9,1346.2 2349.9,1346.5 2353.9,1346.8 2357.9,1347.1" stroke="#0000ff"/>
<path d="M358.8,74.4 362.9,74.4 366.9,74.5 370.9,74.5 374.9,74.6 379.0,74.6 383.0,74.6 387.0,74.7 391.0,74.7 395.1,74.7 399.1,74.7 403.1,74.8 407.1,74.8 411.1,74.8 415.2,74.8 419.2,74.9 423.2,74.9 427.2,74.9 431.2,74.9 435.2,74.9 439.2,74.9 443.2,74.9 447.3,75.0 451.3,75.0 455.3,75.0 459.3,75.0 463.3,75.0 467.3,75.0 471.3,75.0 475.3,75.0 479.3,75.0 483.3,75.0 487.3,75.0 491.3,75.0 495.3,75.0 499.3,75.0 503.3,75.0 507.3,75.0 511.3,75.0 515.3,75.0 519.3,75.1 523.3,75.1 527.3,75.1 531.3,75.1 535.3,75.1 539.3,75.1 543.3,75.1 547.3,75.1 551.3,75.1 555.3,75.1 559.3,75.1 563.3,75.1 567.3,75.2 571.3,75.2 575.3,75.2 579.3,75.2 583.3,75.2 587.3,75.2 591.3,75.2 595.3,75.3 599.3,75.3 603.3,75.3 607.3,75.3 611.3,75.4 615.3,75.4 619.3,75.4 623.3,75.5 627.3,75.5 631.3,75.5 635.4,75.6 639.4,75.6 643.4,75.7 647.4,75.7 651.4,75.8 655.4,75.8 659.4,75.9 663.4,75.9 667.4,76.0 671.4,76.0 675.4,76.1 679.5,76.2 683.5,76.2 687.5,76.3 691.5,76.4 695.5,76.5 699.5,76.5 703.6,76.6 707.6,76.7 711.6,76.8 715.6,76.9 719.7,77.0 723.7,77.1 727.7,77.2 731.7,77.3 735.8,77.4 739.8,77.6 743.8,77.7 747.9,77.8 751.9,78.0 755.9,78.2 759.9,78.4 763.9,78.6 767.9,78.8 771.9,79.1 776.0,79.4 779.9,79.7 783.9,80.0 787.9,80.4 791.9,80.8 795.9,81.2 799.8,81.7 803.8,82.2 807.7,82.7 811.7,83.3 815.6,83.9 819.5,84.5 823.4,85.2 827.3,86.0 831.2,86.7 835.1,87.6 838.9,88.5 842.8,89.4 846.6,90.4 850.4,91.5 854.2,92.6 858.0,93.7 861.7,94.9 865.5,96.2 869.2,97.6 872.9,99.0 876.6,100.5 880.3,102.0 884.0,103.6 887.6,105.3 891.2,107.1 894.8,108.9 898.3,110.9 901.8,112.9 905.2,115.0 908.6,117.2 911.9,119.5 915.2,121.8 918.4,124.3 921.5,126.9 924.5,129.5 927.5,132.2 930.4,135.0 933.2,137.9 936.0,140.9 938.6,143.9 941.2,147.0 943.7,150.1 946.1,153.3 948.4,156.6 950.7,159.9 952.9,163.2 955.0,166.6 957.0,170.0 959.0,173.5 960.9,177.0 962.7,180.5 964.5,184.0 966.3,187.6 968.0,191.2 969.6,194.9 971.3,198.5 972.8,202.2 974.4,205.9 975.9,209.6 977.4,213.3 978.9,217.0 980.3,220.8 981.8,224.5 983.2,228.3 984.6,232.0 986.0,235.8 987.4,239.5 988.8,243.3 990.1,247.0 991.5,250.8 992.8,254.6 994.1,258.4 995.4,262.1 996.7,265.9 998.0,269.7 999.2,273.5 1000.5,277.3 1001.7,281.1 1002.9,284.9 1004.1,288.7 1005.3,292.6 1006.5,296.4 1007.7,300.2 1008.9,304.0 1010.0,307.9 1011.2,311.7 1012.3,315.5 1013.5,319.4 1014.6,323.2 1015.7,327.0 1016.8,330.9 1017.9,334.7 1019.0,338.6 1020.0,342.4 1021.1,346.3 1022.2,350.2 1023.2,354.0 1024.3,357.9 1025.3,361.8 1026.3,365.6 1027.4,369.5 1028.4,373.4 1029.4,377.3 1030.4,381.1 1031.4,385.0 1032.4,388.9 1033.4,392.8 1034.3,396.7 1035.3,400.6 1036.3,404.4 1037.2,408.3 1038.2,412.2 1039.2,416.1 1040.1,420.0 1041.1,423.9 1042.0,427.8 1043.0,431.7 1043.9,435.6 1044.8,439.5 1045.8,443.4 1046.7,447.3 1047.6,451.2 1048.6,455.1 1049.5,459.0 1050.4,462.9 1051.3,466.8 1052.3,470.7 1053.2,474.6 1054.1,478.5 1055.0,482.4 1055.9,486.3 1056.9,490.2 1057.8,494.1 1058.7,498.0 1059.6,501.9 1060.5,505.8 1061.5,509.7 1062.4,513.7 1063.3,517.6 1064.3,521.5 1065.2,525.4 1066.1,529.3 1067.1,533.2 1068.0,537.0 1068.9,540.9 1069.9,544.8 1070.8,548.7 1071.8,552.6 1072.7,556.5 1073.7,560.4 1074.7,564.3 1075.6,568.2 1076.6,572.1 1077.6,576.0 1078.5,579.9 1079.5,583.7 1080.5,587.6 1081.5,591.5 1082.5,595.4 1083.4,599.3 1084.4,603.2 1085.4,607.0 1086.4,610.9 1087.4,614.8 1088.4,618.7 1089.4,622.6 1090.4,626.4 1091.4,630.3 1092.5,634.2 1093.5,638.1 1094.5,641.9 1095.5,645.8 1096.5,649.7 1097.5,653.5 1098.6,657.4 1099.6,661.3 1100.6,665.2 1101.7,669.0 1102.7,672.9 1103.7,676.8 1104.8,680.6 1105.8,684.5 1106.9,688.4 1107.9,692.2 1108.9,696.1 1110.0,700.0 1111.0,703.8 1112.1,707.7 1113.2,711.6 1114.2,715.4 1115.3,719.3 1116.3,723.1 1117.4,727.0 1118.5,730.9 1119.5,734.7 1120.6,738.6 1121.7,742.4 1122.7,746.3 1123.8,750.2 1124.9,754.0 1126.0,757.9 1127.0,761.7 1128.1,765.6 1129.2,769.5 1130.3,773.3 1131.4,777.2 1132.4,781.0 1133.5,784.9 1134.6,788.7 1135.7,792.6 1136.8,796.5 1137.9,800.3 1139.0,804.2 1140.1,808.0 1141.2,811.9 1142.3,815.7 1143.4,819.6 1144.4,823.5 1145.5,827.3 1146.6,831.2 1147.7,835.0 1148.9,838.9 1150.0,842.7 1151.1,846.6 1152.2,850.4 1153.3,854.3 1154.4,858.1 1155.5,862.0 1156.7,865.8 1157.9,869.7 1159.1,873.5 1160.3,877.3 1161.6,881.1 1162.9,884.8 1164.2,888.6 1165.6,892.3 1167.1,896.0 1168.6,899.7 1170.2,903.4 1171.8,907.0 1173.5,910.6 1175.3,914.2 1177.2,917.7 1179.1,921.3 1181.1,924.7 1183.3,928.2 1185.5,931.5 1187.8,934.9 1190.1,938.2 1192.5,941.4 1195.0,944.5 1197.6,947.6 1200.2,950.7 1202.9,953.6 1205.7,956.5 1208.5,959.2 1211.4,961.8 1214.5,964.3 1217.7,966.5 1221.0,968.5 1224.5,970.4 1228.2,972.0 1231.9,973.4 1235.7,974.8 1239.5,976.1 1243.4,977.4 1247.2,978.6 1251.1,979.7 1255.0,980.8 1258.8,981.8 1262.7,982.8 1266.6,983.8 1270.5,984.8 1274.5,985.7 1278.4,986.5 1282.3,987.4 1286.2,988.2 1290.2,989.1 1294.1,989.9 1298.0,990.7 1302.0,991.5 1305.9,992.3 1309.8,993.1 1313.7,993.9 1317.7,994.7 1321.6,995.5 1325.5,996.3 1329.4,997.1 1333.3,998.0 1337.2,998.8 1341.1,999.7 1345.0,1000.6 1348.9,1001.5 1352.8,1002.4 1356.6,1003.3 1360.5,1004.3 1364.4,1005.3 1368.2,1006.3 1372.1,1007.3 1375.9,1008.4 1379.8,1009.5 1383.6,1010.6 1387.5,1011.8 1391.3,1013.0 1395.1,1014.2 1398.9,1015.5 1402.7,1016.8 1406.5,1018.1 1410.3,1019.5 1414.1,1020.9 1417.8,1022.4 1421.5,1023.9 1425.2,1025.4 1428.9,1027.0 1432.6,1028.6 1436.3,1030.3 1439.9,1032.0 1443.5,1033.8 1447.1,1035.6 1450.6,1037.4 1454.2,1039.3 1457.7,1041.3 1461.1,1043.3 1464.6,1045.3 1468.0,1047.4 1471.4,1049.6 1474.7,1051.8 1478.0,1054.0 1481.3,1056.3 1484.5,1058.6 1487.7,1061.0 1490.9,1063.4 1494.0,1065.9 1497.1,1068.4 1500.2,1070.9 1503.3,1073.5 1506.4,1076.0 1509.4,1078.6 1512.5,1081.3 1515.5,1083.9 1518.5,1086.5 1521.5,1089.2 1524.5,1091.9 1527.5,1094.5 1530.4,1097.2 1533.4,1099.9 1536.4,1102.6 1539.4,1105.2 1542.4,1107.9 1545.3,1110.5 1548.3,1113.2 1551.3,1115.8 1554.3,1118.4 1557.3,1121.1 1560.4,1123.7 1563.4,1126.2 1566.5,1128.8 1569.5,1131.4 1572.6,1133.9 1575.7,1136.5 1578.8,1139.0 1582.0,1141.5 1585.1,1143.9 1588.3,1146.4 1591.5,1148.8 1594.8,1151.2 1598.0,1153.6 1601.3,1155.9 1604.7,1158.2 1608.0,1160.5 1611.4,1162.7 1614.8,1164.8 1618.3,1166.9 1621.8,1168.9 1625.3,1170.8 1628.9,1172.6 1632.5,1174.3 1636.1,1175.9 1639.8,1177.5 1643.6,1178.9 1647.3,1180.2 1651.1,1181.5 1654.9,1182.7 1658.7,1183.8 1662.6,1184.8 1666.4,1185.9 1670.3,1186.9 1674.2,1187.8 1678.1,1188.8 1681.9,1189.7 1685.8,1190.6 1689.7,1191.5 1693.6,1192.3 1697.5,1193.2 1701.4,1194.0 1705.4,1194.8 1709.3,1195.6 1713.2,1196.3 1717.1,1197.1 1721.1,1197.8 1725.0,1198.5 1728.9,1199.2 1732.9,1199.8 1736.8,1200.5 1740.8,1201.1 1744.7,1201.7 1748.7,1202.3 1752.7,1202.9 1756.6,1203.5 1760.6,1204.1 1764.6,1204.6 1768.5,1205.1 1772.5,1205.6 1776.5,1206.1 1780.5,1206.6 1784.4,1207.1 1788.4,1207.6 1792.4,1208.0 1796.4,1208.4 1800.4,1208.9 1804.4,1209.3 1808.4,1209.7 1812.4,1210.1 1816.3,1210.5 1820.3,1210.9 1824.3,1211.2 1828.3,1211.6 1832.3,1211.9 1836.3,1212.3 1840.3,1212.6 1844.3,1213.0 1848.3,1213.3 1852.3,1213.6 1856.3,1213.9 1860.3,1214.2 1864.3,1214.5 1868.3,1214.8 1872.3,1215.1 1876.3,1215.4 1880.3,1215.7 1884.3,1216.0 1888.3,1216.3 1892.3,1216.5 1896.3,1216.8 1900.3,1217.1 1904.3,1217.4 1908.3,1217.6 1912.3,1217.9 1916.3,1218.2 1920.3,1218.4 1924.3,1218.7 1928.3,1219.0 1932.3,1219.2 1936.3,1219.5 1940.3,1219.8 1944.3,1220.1 1948.3,1220.3 1952.3,1220.6 1956.3,1220.9 1960.3,1221.2 1964.3,1221.5 1968.3,1221.8 1972.3,1222.1 1976.3,1222.4 1980.2,1222.7 1984.2,1223.0 1988.2,1223.3 1992.2,1223.6 1996.2,1223.9 2000.2,1224.3 2004.2,1224.6 2008.2,1225.0 2012.2,1225.3 2016.2,1225.7 2020.1,1226.1 2024.1,1226.5 2028.1,1226.8 2032.1,1227.2 2036.1,1227.6 2040.1,1228.1 2044.1,1228.5 2048.0,1228.9 2052.0,1229.3 2056.0,1229.8 2060.0,1230.2 2064.0,1230.7 2067.9,1231.1 2071.9,1231.6 2075.9,1232.0 2079.9,1232.5 2083.9,1233.0 2087.8,1233.5 2091.8,1234.0 2095.8,1234.4 2099.8,1234.9 2103.7,1235.4 2107.7,1236.0 2111.7,1236.5 2115.7,1237.0 2119.6,1237.5 2123.6,1238.0 2127.6,1238.5 2131.6,1239.1 2135.5,1239.6 2139.5,1240.1 2143.5,1240.7 2147.4,1241.2 2151.4,1241.7 2155.4,1242.3 2159.4,1242.8 2163.3,1243.4 2167.3,1243.9 2171.3,1244.5 2175.2,1245.0 2179.2,1245.6 2183.2,1246.1 2187.1,1246.7 2191.1,1247.2 2195.1,1247.8 2199.1,1248.4 2203.0,1248.9 2207.0,1249.5 2211.0,1250.0 2214.9,1250.6 2218.9,1251.1 2222.9,1251.7 2226.8,1252.3 2230.8,1252.8 2234.8,1253.4 2238.7,1253.9 2242.7,1254.5 2246.7,1255.0 2250.7,1255.6 2254.6,1256.1 2258.6,1256.7 2262.6,1257.2 2266.5,1257.7 2270.5,1258.3 2274.5,1258.8 2278.4,1259.3 2282.4,1259.9 2286.4,1260.4 2290.4,1260.9 2294.3,1261.4 2298.3,1261.9 2302.3,1262.5 2306.2,1263.0 2310.2,1263.5 2314.2,1264.0 2318.2,1264.5 2322.1,1265.0 2326.1,1265.4 2330.1,1265.9 2334.1,1266.4 2338.0,1266.9 2342.0,1267.3 2346.0,1267.8 2350.0,1268.2 2353.9,1268.7 2357.9,1269.1" stroke="#ff00ff"/>
<path d="M359.3,75.7 363.2,75.7 367.2,75.7 371.1,75.7 375.1,75.7 379.0,75.7 383.0,75.7 387.0,75.7 391.0,75.7 394.9,75.7 398.9,75.7 402.9,75.7 406.9,75.7 410.9,75.7 414.9,75.7 418.9,75.7 422.9,75.7 427.0,75.7 431.0,75.7 435.0,75.7 439.0,75.7 443.0,75.8 447.1,75.8 451.1,75.8 455.1,75.8 459.1,75.9 463.2,75.9 467.2,75.9 471.2,76.0 475.3,76.0 479.3,76.0 483.3,76.1 487.3,76.1 491.4,76.2 495.4,76.2 499.4,76.3 503.4,76.3 507.5,76.4 511.5,76.5 515.5,76.5 519.5,76.6 523.5,76.7 527.5,76.8 531.6,76.8 535.6,76.9 539.6,77.0 543.6,77.1 547.6,77.2 551.6,77.3 555.5,77.4 559.5,77.5 563.5,77.7 567.5,77.8 571.4,77.9 575.4,78.0 579.4,78.2 583.3,78.3 587.3,78.5 591.3,78.6 595.2,78.8 599.2,79.0 603.1,79.2 607.1,79.4 611.1,79.5 615.0,79.8 619.0,80.0 623.0,80.2 626.9,80.4 630.9,80.7 634.9,80.9 638.9,81.2 642.9,81.5 646.9,81.8 650.9,82.1 654.9,82.4 658.9,82.8 662.9,83.1 666.9,83.5 671.0,83.8 675.0,84.2 679.1,84.7 683.1,85.1 687.2,85.6 691.2,86.1 695.3,86.7 699.3,87.3 703.3,87.9 707.3,88.6 711.3,89.4 715.2,90.2 719.1,91.0 723.0,92.0 726.9,93.0 730.8,94.1 734.6,95.2 738.4,96.4 742.1,97.8 745.8,99.2 749.5,100.7 753.1,102.3 756.6,103.9 760.1,105.7 763.6,107.6 767.0,109.6 770.4,111.7 773.7,113.9 776.9,116.2 780.1,118.6 783.2,121.1 786.3,123.6 789.3,126.2 792.3,128.9 795.2,131.7 798.1,134.5 800.9,137.4 803.6,140.4 806.3,143.4 809.0,146.5 811.5,149.6 814.1,152.8 816.5,156.0 818.9,159.3 821.3,162.6 823.6,165.9 825.8,169.2 828.0,172.6 830.1,176.0 832.2,179.5 834.2,182.9 836.1,186.4 838.0,189.9 839.9,193.4 841.7,197.0 843.5,200.6 845.2,204.1 846.9,207.7 848.6,211.4 850.2,215.0 851.8,218.7 853.4,222.3 854.9,226.0 856.4,229.7 857.9,233.4 859.3,237.1 860.7,240.8 862.2,244.6 863.5,248.3 864.9,252.1 866.3,255.8 867.6,259.6 868.9,263.3 870.3,267.1 871.6,270.9 872.8,274.7 874.1,278.5 875.4,282.3 876.6,286.1 877.8,289.9 879.0,293.7 880.2,297.5 881.4,301.3 882.6,305.1 883.8,309.0 884.9,312.8 886.0,316.6 887.2,320.5 888.3,324.3 889.4,328.2 890.5,332.0 891.5,335.9 892.6,339.8 893.7,343.6 894.7,347.5 895.7,351.4 896.8,355.3 897.8,359.1 898.8,363.0 899.8,366.9 900.8,370.8 901.7,374.7 902.7,378.6 903.7,382.5 904.6,386.4 905.5,390.3 906.5,394.2 907.4,398.1 908.3,402.0 909.2,405.9 910.1,409.8 911.0,413.7 911.9,417.6 912.8,421.5 913.7,425.5 914.5,429.4 915.4,433.3 916.3,437.2 917.1,441.1 918.0,445.1 918.8,449.0 919.6,452.9 920.5,456.8 921.3,460.7 922.1,464.7 922.9,468.6 923.7,472.5 924.5,476.5 925.3,480.4 926.1,484.3 926.9,488.2 927.7,492.2 928.4,496.1 929.2,500.0 930.0,504.0 930.7,507.9 931.5,511.8 932.2,515.8 933.0,519.7 933.7,523.7 934.4,527.6 935.2,531.5 935.9,535.5 936.6,539.4 937.3,543.4 938.0,547.3 938.7,551.2 939.4,555.2 940.1,559.1 940.8,563.1 941.5,567.0 942.2,571.0 942.9,574.9 943.5,578.9 944.2,582.8 944.9,586.8 945.5,590.7 946.2,594.7 946.8,598.6 947.5,602.6 948.1,606.5 948.8,610.5 949.4,614.4 950.0,618.4 950.7,622.3 951.3,626.3 951.9,630.3 952.5,634.2 953.1,638.2 953.8,642.1 954.4,646.1 955.0,650.0 955.6,654.0 956.2,658.0 956.8,661.9 957.3,665.9 957.9,669.9 958.5,673.8 959.1,677.8 959.7,681.7 960.3,685.7 960.8,689.7 961.4,693.6 962.0,697.6 962.5,701.6 963.1,705.5 963.6,709.5 964.2,713.5 964.8,717.4 965.3,721.4 965.9,725.4 966.4,729.3 966.9,733.3 967.5,737.3 968.0,741.3 968.6,745.2 969.1,749.2 969.6,753.2 970.1,757.1 970.7,761.1 971.2,765.1 971.7,769.1 972.2,773.0 972.8,777.0 973.3,781.0 973.8,784.9 974.3,788.9 974.8,792.9 975.3,796.9 975.8,800.8 976.4,804.8 976.9,808.8 977.4,812.8 977.9,816.7 978.4,820.7 978.9,824.7 979.4,828.7 979.9,832.6 980.4,836.6 980.9,840.6 981.3,844.6 981.8,848.6 982.3,852.5 982.8,856.5 983.3,860.5 983.8,864.5 984.3,868.4 984.8,872.4 985.3,876.4 985.8,880.4 986.2,884.4 986.7,888.3 987.2,892.3 987.7,896.3 988.2,900.3 988.7,904.2 989.2,908.2 989.6,912.2 990.1,916.2 990.6,920.2 991.1,924.1 991.6,928.1 992.1,932.1 992.5,936.1 993.0,940.1 993.5,944.0 994.0,948.0 994.5,952.0 995.0,956.0 995.4,959.9 995.9,963.9 996.4,967.9 996.9,971.9 997.4,975.9 997.9,979.8 998.3,983.8 998.8,987.8 999.3,991.8 999.8,995.7 1000.3,999.7 1000.8,1003.7 1001.3,1007.7 1001.8,1011.7 1002.3,1015.6 1002.8,1019.6 1003.3,1023.6 1003.8,1027.6 1004.3,1031.5 1004.8,1035.5 1005.3,1039.5 1005.8,1043.5 1006.3,1047.4 1006.8,1051.4 1007.3,1055.4 1007.8,1059.4 1008.3,1063.3 1008.8,1067.3 1009.3,1071.3 1009.8,1075.3 1010.3,1079.2 1010.9,1083.2 1011.4,1087.2 1011.9,1091.1 1012.4,1095.1 1012.9,1099.1 1013.5,1103.1 1014.0,1107.0 1014.5,1111.0 1015.1,1115.0 1015.6,1118.9 1016.1,1122.9 1016.7,1126.9 1017.2,1130.8 1017.8,1134.8 1018.3,1138.8 1018.9,1142.7 1019.4,1146.7 1020.0,1150.7 1020.5,1154.6 1021.1,1158.6 1021.7,1162.6 1022.2,1166.5 1022.8,1170.5 1023.4,1174.5 1023.9,1178.4 1024.5,1182.4 1025.1,1186.4 1025.7,1190.3 1026.3,1194.3 1026.9,1198.2 1027.5,1202.2 1028.1,1206.2 1028.7,1210.1 1029.3,1214.1 1029.9,1218.0 1030.6,1222.0 1031.2,1225.9 1031.8,1229.9 1032.5,1233.8 1033.1,1237.8 1033.7,1241.8 1034.4,1245.7 1035.1,1249.7 1035.7,1253.6 1036.4,1257.5 1037.1,1261.5 1037.8,1265.4 1038.5,1269.4 1039.2,1273.3 1039.9,1277.3 1040.6,1281.2 1041.4,1285.2 1042.1,1289.1 1042.8,1293.0 1043.6,1297.0 1044.3,1300.9 1045.1,1304.8 1045.9,1308.8 1046.7,1312.7 1047.5,1316.6 1048.3,1320.6 1049.1,1324.5 1049.9,1328.4 1050.7,1332.3 1051.6,1336.3 1052.4,1340.2 1053.3,1344.1 1054.2,1348.0 1055.1,1351.9 1055.9,1355.9 1056.9,1359.8 1057.8,1363.7 1058.7,1367.6 1059.6,1371.5 1060.6,1375.4 1061.5,1379.3 1062.5,1383.2 1063.4,1387.1 1064.4,1391.0 1065.3,1394.9 1066.3,1398.8 1067.2,1402.7 1068.2,1406.6 1069.2,1410.5 1070.1,1414.4 1071.1,1418.3 1072.0,1422.2 1073.0,1426.1 1073.9,1429.9 1074.9,1433.8 1075.8,1437.7 1076.7,1441.6 1077.7,1445.4 1078.6,1449.3 1079.5,1453.2 1080.5,1457.0 1081.5,1460.9 1082.6,1464.7 1083.8,1468.5 1085.0,1472.3 1086.4,1476.1 1087.9,1479.9 1089.6,1483.6 1091.5,1487.3 1093.5,1491.0 1095.8,1494.3 1098.4,1497.3 1101.4,1499.7 1104.7,1501.5 1108.3,1502.9 1112.1,1503.9 1115.9,1504.7 1119.7,1505.3 1123.7,1505.8 1127.6,1506.2 1131.6,1506.4 1135.6,1506.5 1139.6,1506.6 1143.7,1506.6 1147.7,1506.5 1151.8,1506.4 1155.9,1506.4 1159.9,1506.3 1164.0,1506.3 1168.0,1506.3 1172.0,1506.4 1176.0,1506.4 1180.0,1506.5 1184.0,1506.7 1188.0,1506.8 1192.0,1507.0 1195.9,1507.1 1199.9,1507.3 1203.9,1507.4 1207.9,1507.6 1211.8,1507.8 1215.8,1507.9 1219.8,1508.0 1223.8,1508.2 1227.8,1508.3 1231.8,1508.4 1235.8,1508.4 1239.8,1508.5 1243.8,1508.6 1247.8,1508.6 1251.8,1508.7 1255.8,1508.7 1259.8,1508.7 1263.8,1508.8 1267.8,1508.8 1271.8,1508.8 1275.9,1508.8 1279.9,1508.8 1283.9,1508.8 1287.9,1508.8 1291.9,1508.8 1296.0,1508.8 1300.0,1508.8 1304.0,1508.8 1308.0,1508.7 1312.0,1508.7 1316.1,1508.7 1320.1,1508.7 1324.1,1508.7 1328.1,1508.7 1332.1,1508.7 1336.1,1508.7 1340.2,1508.7 1344.2,1508.7 1348.2,1508.7 1352.2,1508.7 1356.2,1508.7 1360.2,1508.7 1364.2,1508.7 1368.3,1508.7 1372.3,1508.7 1376.3,1508.7 1380.3,1508.8 1384.3,1508.8 1388.3,1508.8 1392.3,1508.8 1396.3,1508.8 1400.3,1508.8 1404.4,1508.8 1408.4,1508.9 1412.4,1508.9 1416.4,1508.9 1420.4,1508.9 1424.4,1508.9 1428.4,1508.9 1432.4,1509.0 1436.4,1509.0 1440.4,1509.0 1444.4,1509.0 1448.4,1509.1 1452.4,1509.1 1456.4,1509.1 1460.5,1509.1 1464.5,1509.2 1468.5,1509.2 1472.5,1509.2 1476.5,1509.2 1480.5,1509.3 1484.5,1509.3 1488.5,1509.3 1492.5,1509.3 1496.5,1509.4 1500.5,1509.4 1504.5,1509.4 1508.5,1509.4 1512.5,1509.5 1516.5,1509.5 1520.5,1509.5 1524.5,1509.6 1528.5,1509.6 1532.5,1509.6 1536.5,1509.6 1540.6,1509.7 1544.6,1509.7 1548.6,1509.7 1552.6,1509.7 1556.6,1509.8 1560.6,1509.8 1564.6,1509.8 1568.6,1509.8 1572.6,1509.9 1576.6,1509.9 1580.6,1509.9 1584.6,1509.9 1588.6,1510.0 1592.6,1510.0 1596.6,1510.0 1600.6,1510.0 1604.6,1510.1 1608.6,1510.1 1612.7,1510.1 1616.7,1510.1 1620.7,1510.2 1624.7,1510.2 1628.7,1510.2 1632.7,1510.2 1636.7,1510.2 1640.7,1510.3 1644.7,1510.3 1648.7,1510.3 1652.7,1510.3 1656.7,1510.4 1660.7,1510.4 1664.7,1510.4 1668.7,1510.4 1672.8,1510.5 1676.8,1510.5 1680.8,1510.5 1684.8,1510.5 1688.8,1510.5 1692.8,1510.6 1696.8,1510.6 1700.8,1510.6 1704.8,1510.6 1708.8,1510.6 1712.8,1510.7 1716.8,1510.7 1720.8,1510.7 1724.8,1510.7 1728.8,1510.8 1732.9,1510.8 1736.9,1510.8 1740.9,1510.8 1744.9,1510.8 1748.9,1510.9 1752.9,1510.9 1756.9,1510.9 1760.9,1510.9 1764.9,1510.9 1768.9,1511.0 1772.9,1511.0 1776.9,1511.0 1780.9,1511.0 1784.9,1511.0 1789.0,1511.1 1793.0,1511.1 1797.0,1511.1 1801.0,1511.1 1805.0,1511.1 1809.0,1511.2 1813.0,1511.2 1817.0,1511.2 1821.0,1511.2 1825.0,1511.2 1829.0,1511.3 1833.0,1511.3 1837.0,1511.3 1841.1,1511.3 1845.1,1511.3 1849.1,1511.4 1853.1,1511.4 1857.1,1511.4 1861.1,1511.4 1865.1,1511.4 1869.1,1511.5 1873.1,1511.5 1877.1,1511.5 1881.1,1511.5 1885.1,1511.5 1889.1,1511.5 1893.2,1511.6 1897.2,1511.6 1901.2,1511.6 1905.2,1511.6 1909.2,1511.6 1913.2,1511.7 1917.2,1511.7 1921.2,1511.7 1925.2,1511.7 1929.2,1511.7 1933.2,1511.8 1937.2,1511.8 1941.2,1511.8 1945.3,1511.8 1949.3,1511.8 1953.3,1511.8 1957.3,1511.9 1961.3,1511.9 1965.3,1511.9 1969.3,1511.9 1973.3,1511.9 1977.3,1512.0 1981.3,1512.0 1985.3,1512.0 1989.3,1512.0 1993.3,1512.0 1997.4,1512.1 2001.4,1512.1 2005.4,1512.1 2009.4,1512.1 2013.4,1512.1 2017.4,1512.1 2021.4,1512.2 2025.4,1512.2 2029.4,1512.2 2033.4,1512.2 2037.4,1512.2 2041.4,1512.3 2045.5,1512.3 2049.5,1512.3 2053.5,1512.3 2057.5,1512.3 2061.5,1512.3 2065.5,1512.4 2069.5,1512.4 2073.5,1512.4 2077.5,1512.4 2081.5,1512.4 2085.5,1512.5 2089.5,1512.5 2093.5,1512.5 2097.5,1512.5 2101.6,1512.5 2105.6,1512.6 2109.6,1512.6 2113.6,1512.6 2117.6,1512.6 2121.6,1512.6 2125.6,1512.7 2129.6,1512.7 2133.6,1512.7 2137.6,1512.7 2141.6,1512.7 2145.6,1512.7 2149.6,1512.8 2153.7,1512.8 2157.7,1512.8 2161.7,1512.8 2165.7,1512.8 2169.7,1512.9 2173.7,1512.9 2177.7,1512.9 2181.7,1512.9 2185.7,1512.9 2189.7,1513.0 2193.7,1513.0 2197.7,1513.0 2201.7,1513.0 2205.7,1513.0 2209.7,1513.1 2213.8,1513.1 2217.8,1513.1 2221.8,1513.1 2225.8,1513.1 2229.8,1513.2 2233.8,1513.2 2237.8,1513.2 2241.8,1513.2 2245.8,1513.2 2249.8,1513.3 2253.8,1513.3 2257.8,1513.3 2261.8,1513.3 2265.8,1513.4 2269.8,1513.4 2273.8,1513.4 2277.9,1513.4 2281.9,1513.4 2285.9,1513.5 2289.9,1513.5 2293.9,1513.5 2297.9,1513.5 2301.9,1513.5 2305.9,1513.6 2309.9,1513.6 2313.9,1513.6 2317.9,1513.6 2321.9,1513.7 2325.9,1513.7 2329.9,1513.7 2333.9,1513.7 2337.9,1513.7 2341.9,1513.8 2346.0,1513.8 2350.0,1513.8 2354.0,1513.8 2358.0,1513.9" stroke="#808000"/>
<path d="M358.9,76.2 362.9,76.1 366.9,76.1 370.9,76.0 374.9,76.0 378.9,75.9 382.9,75.9 386.9,75.8 391.0,75.8 395.0,75.7 399.0,75.7 403.0,75.6 407.0,75.6 411.0,75.5 415.0,75.5 419.0,75.5 423.0,75.4 427.0,75.4 431.0,75.3 435.1,75.3 439.1,75.3 443.1,75.2 447.1,75.2 451.1,75.2 455.1,75.1 459.1,75.1 463.1,75.1 467.1,75.0 471.1,75.0 475.1,75.0 479.1,74.9 483.1,74.9 487.1,74.9 491.1,74.9 495.2,74.9 499.2,74.8 503.2,74.8 507.2,74.8 511.2,74.8 515.2,74.8 519.2,74.8 523.2,74.7 527.2,74.7 531.2,74.7 535.2,74.7 539.2,74.7 543.2,74.7 547.2,74.7 551.2,74.7 555.2,74.7 559.3,74.7 563.3,74.7 567.3,74.7 571.3,74.7 575.3,74.7 579.3,74.7 583.3,74.7 587.3,74.8 591.3,74.8 595.3,74.8 599.3,74.8 603.3,74.8 607.3,74.8 611.4,74.9 615.4,74.9 619.4,74.9 623.4,75.0 627.4,75.0 631.4,75.0 635.4,75.1 639.4,75.1 643.4,75.1 647.4,75.2 651.5,75.2 655.5,75.3 659.5,75.3 663.5,75.4 667.5,75.4 671.5,75.5 675.5,75.5 679.5,75.6 683.6,75.6 687.6,75.7 691.6,75.8 695.6,75.8 699.6,75.9 703.6,76.0 707.6,76.1 711.7,76.1 715.7,76.2 719.7,76.3 723.7,76.4 727.7,76.5 731.8,76.6 735.8,76.7 739.8,76.8 743.8,76.9 747.8,77.0 751.8,77.2 755.8,77.4 759.8,77.5 763.8,77.7 767.8,78.0 771.8,78.2 775.8,78.5 779.7,78.8 783.7,79.1 787.7,79.4 791.6,79.8 795.6,80.2 799.5,80.6 803.4,81.0 807.4,81.5 811.3,82.0 815.2,82.6 819.1,83.1 823.0,83.7 827.0,84.4 830.9,85.0 834.9,85.6 838.9,86.3 842.9,87.0 846.9,87.6 851.0,88.3 855.1,89.1 859.1,89.9 863.1,90.8 867.1,91.8 870.9,93.0 874.7,94.3 878.4,95.8 882.0,97.5 885.4,99.4 888.6,101.6 891.7,104.0 894.6,106.6 897.4,109.3 900.1,112.3 902.7,115.3 905.2,118.5 907.5,121.7 909.8,125.1 912.0,128.5 914.1,131.9 916.2,135.4 918.2,138.9 920.1,142.4 922.0,145.9 923.9,149.4 925.8,153.0 927.6,156.6 929.4,160.1 931.2,163.7 933.0,167.3 934.8,170.9 936.6,174.4 938.5,178.0 940.3,181.6 942.1,185.2 943.8,188.8 945.6,192.4 947.4,196.0 949.1,199.6 950.9,203.2 952.6,206.8 954.3,210.4 956.0,214.0 957.7,217.7 959.4,221.3 961.0,224.9 962.6,228.6 964.2,232.3 965.8,236.0 967.3,239.6 968.8,243.3 970.3,247.1 971.8,250.8 973.2,254.5 974.6,258.2 976.0,262.0 977.4,265.7 978.8,269.5 980.1,273.3 981.4,277.1 982.7,280.8 984.0,284.6 985.2,288.4 986.4,292.2 987.7,296.1 988.9,299.9 990.1,303.7 991.2,307.5 992.4,311.4 993.5,315.2 994.7,319.1 995.8,322.9 996.9,326.8 998.0,330.6 999.1,334.5 1000.1,338.4 1001.2,342.2 1002.3,346.1 1003.3,350.0 1004.3,353.9 1005.4,357.7 1006.4,361.6 1007.4,365.5 1008.4,369.4 1009.4,373.3 1010.5,377.2 1011.5,381.1 1012.5,385.0 1013.5,388.8 1014.5,392.7 1015.5,396.6 1016.4,400.5 1017.4,404.4 1018.4,408.3 1019.4,412.2 1020.4,416.0 1021.4,419.9 1022.4,423.8 1023.4,427.7 1024.4,431.6 1025.4,435.5 1026.4,439.3 1027.4,443.2 1028.4,447.1 1029.4,451.0 1030.4,454.9 1031.4,458.7 1032.4,462.6 1033.4,466.5 1034.4,470.4 1035.3,474.2 1036.3,478.1 1037.3,482.0 1038.3,485.9 1039.3,489.8 1040.3,493.6 1041.3,497.5 1042.3,501.4 1043.2,505.3 1044.2,509.2 1045.2,513.0 1046.2,516.9 1047.2,520.8 1048.1,524.7 1049.1,528.6 1050.1,532.4 1051.0,536.3 1052.0,540.2 1053.0,544.1 1053.9,548.0 1054.9,551.9 1055.9,555.8 1056.8,559.6 1057.8,563.5 1058.7,567.4 1059.7,571.3 1060.7,575.2 1061.6,579.1 1062.6,583.0 1063.5,586.9 1064.5,590.8 1065.4,594.7 1066.4,598.6 1067.3,602.4 1068.3,606.3 1069.3,610.2 1070.2,614.1 1071.2,618.0 1072.1,621.9 1073.1,625.8 1074.1,629.7 1075.1,633.6 1076.1,637.5 1077.0,641.3 1078.0,645.2 1079.0,649.1 1080.0,653.0 1081.0,656.9 1082.1,660.8 1083.1,664.6 1084.1,668.5 1085.1,672.4 1086.2,676.2 1087.2,680.1 1088.3,684.0 1089.4,687.8 1090.4,691.7 1091.5,695.6 1092.6,699.4 1093.7,703.3 1094.8,707.1 1096.0,711.0 1097.1,714.8 1098.2,718.7 1099.4,722.5 1100.6,726.3 1101.8,730.2 1102.9,734.0 1104.1,737.8 1105.3,741.6 1106.5,745.5 1107.8,749.3 1109.0,753.1 1110.2,756.9 1111.4,760.7 1112.6,764.6 1113.9,768.4 1115.1,772.2 1116.3,776.0 1117.5,779.8 1118.7,783.6 1119.9,787.5 1121.1,791.3 1122.3,795.1 1123.5,798.9 1124.7,802.8 1125.8,806.6 1127.0,810.4 1128.1,814.3 1129.3,818.1 1130.4,822.0 1131.5,825.8 1132.6,829.7 1133.6,833.5 1134.7,837.4 1135.7,841.2 1136.7,845.1 1137.7,849.0 1138.7,852.9 1139.7,856.7 1140.6,860.6 1141.6,864.5 1142.5,868.4 1143.3,872.4 1144.2,876.3 1145.0,880.2 1145.9,884.1 1146.8,888.0 1147.7,891.9 1148.8,895.8 1149.9,899.6 1151.0,903.4 1152.3,907.2 1153.6,911.0 1155.0,914.7 1156.4,918.5 1157.9,922.2 1159.4,925.9 1161.0,929.5 1162.5,933.2 1164.1,936.9 1165.8,940.6 1167.4,944.2 1169.0,947.9 1170.6,951.6 1172.2,955.3 1173.7,959.0 1175.3,962.7 1176.8,966.4 1178.4,970.1 1180.0,973.8 1181.6,977.5 1183.2,981.2 1184.8,984.9 1186.5,988.5 1188.2,992.1 1189.9,995.7 1191.7,999.3 1193.5,1002.8 1195.4,1006.4 1197.4,1009.8 1199.4,1013.3 1201.6,1016.6 1203.8,1020.0 1206.1,1023.3 1208.4,1026.5 1210.9,1029.7 1213.5,1032.8 1216.2,1035.8 1218.9,1038.7 1221.8,1041.5 1224.7,1044.2 1227.8,1046.8 1230.9,1049.3 1234.1,1051.6 1237.4,1053.7 1240.8,1055.7 1244.3,1057.6 1247.8,1059.4 1251.4,1061.1 1255.1,1062.7 1258.7,1064.2 1262.4,1065.7 1266.2,1067.1 1269.9,1068.6 1273.6,1070.0 1277.4,1071.4 1281.1,1072.9 1284.8,1074.3 1288.6,1075.8 1292.3,1077.2 1296.1,1078.7 1299.8,1080.1 1303.5,1081.6 1307.3,1083.1 1311.0,1084.5 1314.7,1086.0 1318.5,1087.5 1322.2,1089.0 1325.9,1090.5 1329.7,1092.0 1333.4,1093.5 1337.1,1095.0 1340.8,1096.5 1344.5,1098.1 1348.2,1099.6 1351.9,1101.2 1355.6,1102.7 1359.3,1104.3 1363.0,1105.9 1366.7,1107.5 1370.3,1109.1 1374.0,1110.7 1377.6,1112.3 1381.3,1113.9 1385.0,1115.6 1388.6,1117.2 1392.3,1118.8 1395.9,1120.4 1399.6,1122.0 1403.2,1123.6 1406.9,1125.2 1410.6,1126.8 1414.3,1128.4 1417.9,1130.0 1421.6,1131.5 1425.3,1133.1 1429.0,1134.6 1432.8,1136.1 1436.5,1137.6 1440.2,1139.0 1444.0,1140.5 1447.8,1141.9 1451.5,1143.3 1455.3,1144.8 1459.1,1146.2 1462.9,1147.6 1466.6,1149.0 1470.4,1150.4 1474.2,1151.8 1477.9,1153.3 1481.7,1154.7 1485.4,1156.2 1489.1,1157.7 1492.8,1159.3 1496.5,1160.8 1500.1,1162.4 1503.8,1164.1 1507.4,1165.8 1510.9,1167.6 1514.5,1169.4 1518.0,1171.2 1521.5,1173.1 1524.9,1175.1 1528.3,1177.2 1531.6,1179.3 1535.0,1181.5 1538.2,1183.7 1541.5,1186.0 1544.7,1188.3 1547.9,1190.6 1551.1,1193.0 1554.2,1195.5 1557.3,1197.9 1560.4,1200.4 1563.5,1202.9 1566.6,1205.4 1569.6,1207.9 1572.7,1210.5 1575.7,1213.0 1578.8,1215.6 1581.9,1218.1 1584.9,1220.6 1588.0,1223.2 1591.2,1225.7 1594.3,1228.2 1597.5,1230.8 1600.6,1233.3 1603.8,1235.7 1607.1,1238.2 1610.3,1240.6 1613.6,1243.0 1616.8,1245.4 1620.2,1247.8 1623.5,1250.1 1626.8,1252.4 1630.2,1254.6 1633.6,1256.8 1637.0,1259.0 1640.4,1261.1 1643.9,1263.1 1647.4,1265.1 1650.9,1267.1 1654.4,1269.0 1657.9,1270.8 1661.5,1272.6 1665.1,1274.4 1668.7,1276.0 1672.3,1277.7 1676.0,1279.2 1679.6,1280.8 1683.3,1282.2 1687.0,1283.6 1690.7,1285.0 1694.5,1286.3 1698.2,1287.6 1702.0,1288.9 1705.8,1290.1 1709.6,1291.2 1713.4,1292.3 1717.2,1293.4 1721.1,1294.5 1724.9,1295.5 1728.8,1296.4 1732.7,1297.4 1736.6,1298.3 1740.5,1299.1 1744.4,1300.0 1748.3,1300.8 1752.2,1301.6 1756.1,1302.3 1760.1,1303.1 1764.0,1303.8 1768.0,1304.5 1772.0,1305.1 1775.9,1305.8 1779.9,1306.4 1783.9,1307.0 1787.9,1307.6 1791.9,1308.2 1795.8,1308.8 1799.8,1309.3 1803.8,1309.9 1807.8,1310.4 1811.8,1310.9 1815.8,1311.4 1819.8,1311.9 1823.8,1312.4 1827.8,1312.9 1831.8,1313.4 1835.8,1313.9 1839.8,1314.4 1843.8,1314.9 1847.8,1315.4 1851.8,1315.8 1855.7,1316.3 1859.7,1316.8 1863.7,1317.2 1867.7,1317.7 1871.7,1318.2 1875.7,1318.6 1879.7,1319.1 1883.6,1319.5 1887.6,1320.0 1891.6,1320.4 1895.6,1320.9 1899.6,1321.3 1903.6,1321.7 1907.5,1322.2 1911.5,1322.6 1915.5,1323.0 1919.5,1323.4 1923.4,1323.9 1927.4,1324.3 1931.4,1324.7 1935.4,1325.1 1939.4,1325.6 1943.3,1326.0 1947.3,1326.4 1951.3,1326.8 1955.3,1327.2 1959.3,1327.7 1963.2,1328.1 1967.2,1328.5 1971.2,1328.9 1975.2,1329.3 1979.1,1329.7 1983.1,1330.2 1987.1,1330.6 1991.1,1331.0 1995.1,1331.4 1999.0,1331.8 2003.0,1332.2 2007.0,1332.7 2011.0,1333.1 2015.0,1333.5 2019.0,1333.9 2022.9,1334.4 2026.9,1334.8 2030.9,1335.2 2034.9,1335.6 2038.9,1336.1 2042.9,1336.5 2046.8,1336.9 2050.8,1337.3 2054.8,1337.8 2058.8,1338.2 2062.8,1338.6 2066.8,1339.1 2070.8,1339.5 2074.7,1339.9 2078.7,1340.3 2082.7,1340.8 2086.7,1341.2 2090.7,1341.6 2094.7,1342.1 2098.7,1342.5 2102.7,1342.9 2106.6,1343.4 2110.6,1343.8 2114.6,1344.2 2118.6,1344.6 2122.6,1345.1 2126.6,1345.5 2130.6,1345.9 2134.6,1346.4 2138.6,1346.8 2142.5,1347.2 2146.5,1347.6 2150.5,1348.1 2154.5,1348.5 2158.5,1348.9 2162.5,1349.3 2166.5,1349.8 2170.5,1350.2 2174.5,1350.6 2178.4,1351.0 2182.4,1351.4 2186.4,1351.9 2190.4,1352.3 2194.4,1352.7 2198.4,1353.1 2202.4,1353.5 2206.4,1354.0 2210.4,1354.4 2214.4,1354.8 2218.3,1355.2 2222.3,1355.6 2226.3,1356.0 2230.3,1356.4 2234.3,1356.8 2238.3,1357.2 2242.3,1357.6 2246.3,1358.0 2250.3,1358.4 2254.2,1358.8 2258.2,1359.2 2262.2,1359.6 2266.2,1360.0 2270.2,1360.4 2274.2,1360.8 2278.2,1361.2 2282.2,1361.6 2286.2,1361.9 2290.1,1362.3 2294.1,1362.7 2298.1,1363.1 2302.1,1363.4 2306.1,1363.8 2310.1,1364.2 2314.1,1364.6 2318.0,1364.9 2322.0,1365.3 2326.0,1365.7 2330.0,1366.0 2334.0,1366.4 2338.0,1366.7 2341.9,1367.1 2345.9,1367.4 2349.9,1367.8 2353.9,1368.1 2357.9,1368.5" stroke="#00ff00"/>
</g>
<rect x="1662" y="111" width="657" height="500" fill="#000"/>
<rect x="1640" y="89.7" width="656" height="499.5" fill="#fff" stroke="#000" stroke-width="3.4"/>
<text font-family="'Liberation Sans', Arial, sans-serif" font-size="56.9" transform="translate(1684.2,157.8) scale(1,1.035)" fill="#000" filter="url(#bin)">PVC/DINCH/MA-POSS</text>
<line x1="1683.2" y1="207.7" x2="1811.1" y2="207.7" stroke="#000000" stroke-width="12" stroke-linecap="round"/>
<text font-family="'Liberation Sans', Arial, sans-serif" font-size="57" transform="translate(1827,226.8) scale(1,1.02)" fill="#000" filter="url(#bin)">100/0/0</text>
<line x1="1683.2" y1="277.5" x2="1811.1" y2="277.5" stroke="#ff0000" stroke-width="12" stroke-linecap="round"/>
<text font-family="'Liberation Sans', Arial, sans-serif" font-size="57" transform="translate(1827,296.6) scale(1,1.02)" fill="#000" filter="url(#bin)">100/60/0</text>
<line x1="1683.2" y1="347.4" x2="1811.1" y2="347.4" stroke="#00ff00" stroke-width="12" stroke-linecap="round"/>
<text font-family="'Liberation Sans', Arial, sans-serif" font-size="57" transform="translate(1827,366.5) scale(1,1.02)" fill="#000" filter="url(#bin)">100/60/5</text>
<line x1="1683.2" y1="417.2" x2="1811.1" y2="417.2" stroke="#0000ff" stroke-width="12" stroke-linecap="round"/>
<text font-family="'Liberation Sans', Arial, sans-serif" font-size="57" transform="translate(1827,436.3) scale(1,1.02)" fill="#000" filter="url(#bin)">100/60/10</text>
<line x1="1683.2" y1="487.1" x2="1811.1" y2="487.1" stroke="#ff00ff" stroke-width="12" stroke-linecap="round"/>
<text font-family="'Liberation Sans', Arial, sans-serif" font-size="57" transform="translate(1827,506.2) scale(1,1.02)" fill="#000" filter="url(#bin)">100/60/15</text>
<line x1="1683.2" y1="556.9" x2="1811.1" y2="556.9" stroke="#808000" stroke-width="12" stroke-linecap="round"/>
<text font-family="'Liberation Sans', Arial, sans-serif" font-size="57" transform="translate(1827,576.0) scale(1,1.02)" fill="#000" filter="url(#bin)">0/100/0</text>
</svg>
</body></html>
